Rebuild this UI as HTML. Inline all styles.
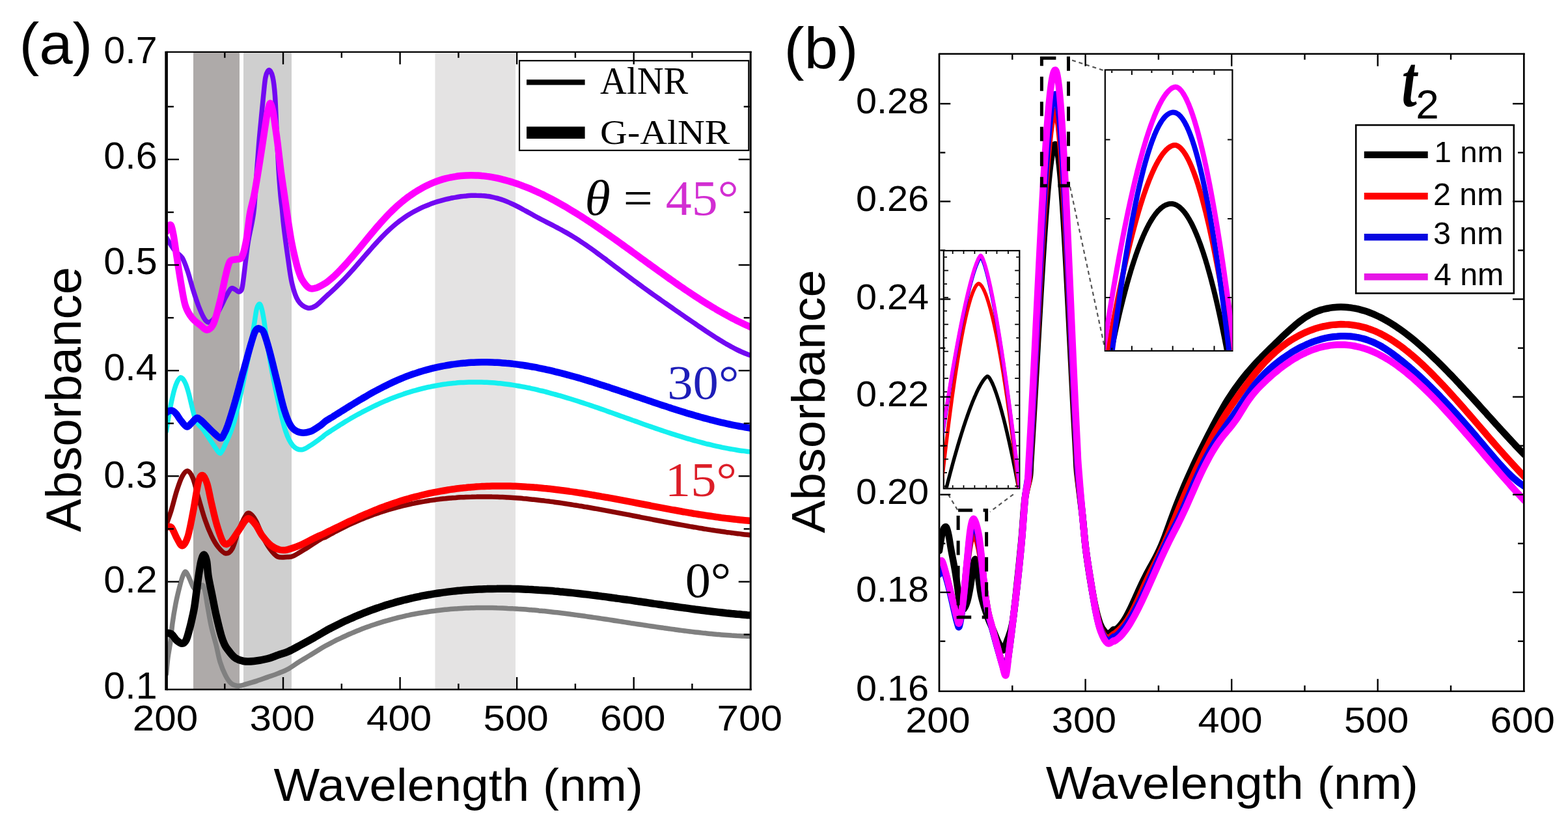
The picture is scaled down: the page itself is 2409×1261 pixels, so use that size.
<!DOCTYPE html>
<html><head><meta charset="utf-8"><title>Absorbance spectra</title>
<style>html,body{margin:0;padding:0;background:#fff;overflow:hidden}svg{display:block}</style>
</head><body>
<svg width="2409" height="1261" viewBox="0 0 2409 1261">
<rect x="0" y="0" width="2409" height="1261" fill="#fff"/>
<defs><clipPath id="ca"><rect x="255.6" y="79.8" width="897.6" height="979.2"/></clipPath>
<clipPath id="cb"><rect x="1443" y="82.7" width="898.3" height="979.1"/></clipPath>
<clipPath id="ci1"><rect x="1698.3" y="108.4" width="195" height="429.5"/></clipPath>
<clipPath id="ci2"><rect x="1450.5" y="385.8" width="115" height="363.6"/></clipPath>
</defs>
<rect x="297" y="79.8" width="71" height="979.2" fill="#AEAAA9"/>
<rect x="374" y="79.8" width="74" height="979.2" fill="#CFCFCF"/>
<rect x="668.4" y="79.8" width="123.6" height="979.2" fill="#E4E3E3"/>
<g clip-path="url(#ca)">
<path d="M255.5 365C256.5 366.7 259.3 371.4 261.7 375C264.1 378.6 266.9 383.1 270 386.6C273.1 390.1 276.9 391 280 396C283.1 401 285.5 408.4 288.3 416.6C291.1 424.8 293.8 436.1 296.6 445C299.4 453.9 302.2 462.8 305 470C307.8 477.2 310.8 484.1 313.3 488.3C315.8 492.5 317.5 494.7 320 495C322.5 495.3 325.2 493.6 328.3 490C331.4 486.4 335.2 478.8 338.3 473.2C341.4 467.6 343.8 461.5 346.6 456.5C349.4 451.5 352.6 445.2 355 443.2C357.4 441.2 359.1 443.7 361 444.5C362.9 445.3 364.9 448.3 366.6 448.2C368.4 448.1 370.2 447.9 371.5 444C372.8 440.1 373.5 432.3 374.5 425C375.5 417.7 376.3 409.2 377.5 400C378.7 390.8 379.8 380 381.5 370C383.2 360 386 348.3 387.5 340C389 331.7 389.5 330 390.5 320C391.5 310 392.1 296.2 393.3 280C394.5 263.8 396.2 238.8 397.5 223C398.8 207.2 399.8 197.7 401 185C402.2 172.3 403.5 158.1 404.7 147C405.9 135.9 406.6 125.2 408 118.6C409.4 112 411.6 107.5 413.4 107.5C415.2 107.5 417.5 112 419 118.6C420.5 125.2 421.5 133.4 422.5 147C423.5 160.6 424.1 181.2 425 200C425.9 218.8 427 243.3 428 260C429 276.7 430.1 289.7 431 300C431.9 310.3 432.7 314.1 433.5 322C434.3 329.9 434.4 335.4 435.9 347.6C437.3 359.8 440.1 380.5 442.2 395C444.3 409.5 445.9 423.7 448.5 434.8C451.1 445.9 454 455.4 458 461.7C462 468 467.8 471.5 472.3 472.8C476.8 474.1 480.4 472.5 485 469.7C489.6 466.9 496.2 459.6 500 456.2C503.8 452.7 505.3 451.4 508 448.9C510.7 446.4 513.3 443.9 516 441.4C518.7 438.8 521.3 436.2 524 433.5C526.7 430.8 529.3 428.1 532 425.2C534.7 422.4 537.3 419.5 540 416.5C542.7 413.6 545.3 410.5 548 407.5C550.7 404.4 553.3 401.3 556 398.3C558.7 395.2 561.3 392.1 564 389C566.7 386 569.3 382.9 572 379.9C574.7 376.9 577.3 374 580 371.1C582.7 368.2 585.3 365.4 588 362.6C590.7 359.9 593.3 357.2 596 354.7C598.7 352.2 601.3 349.8 604 347.5C606.7 345.2 609.3 343 612 340.9C614.7 338.9 617.3 336.9 620 335C622.7 333.2 625.3 331.4 628 329.7C630.7 328.1 633.3 326.5 636 325C638.7 323.5 641.3 322.1 644 320.8C646.7 319.5 649.3 318.3 652 317.1C654.7 315.9 657.3 314.9 660 313.9C662.7 312.8 665.3 311.9 668 311C670.7 310.1 673.3 309.3 676 308.6C678.7 307.8 681.3 307.1 684 306.4C686.7 305.8 689.3 305.2 692 304.6C694.7 304.1 697.3 303.5 700 303.1C702.7 302.6 705.3 302.2 708 301.8C710.7 301.4 713.3 301.1 716 300.9C718.7 300.6 721.3 300.4 724 300.3C726.7 300.2 729.3 300.1 732 300.2C734.7 300.2 737.3 300.3 740 300.5C742.7 300.6 745.3 300.9 748 301.3C750.7 301.6 753.3 302 756 302.6C758.7 303.1 761.3 303.8 764 304.5C766.7 305.2 769.3 306.1 772 307C774.7 307.9 777.3 309 780 310.1C782.7 311.2 785.3 312.5 788 313.7C790.7 315 793.3 316.3 796 317.7C798.7 319.1 801.3 320.5 804 322C806.7 323.4 809.3 324.9 812 326.3C814.7 327.8 817.3 329.3 820 330.8C822.7 332.2 825.3 333.7 828 335.1C830.7 336.5 833.3 337.9 836 339.3C838.7 340.7 841.3 342 844 343.4C846.7 344.8 849.3 346.1 852 347.5C854.7 348.9 857.3 350.3 860 351.7C862.7 353.1 865.3 354.6 868 356.1C870.7 357.6 873.3 359.1 876 360.7C878.7 362.3 881.3 364 884 365.6C886.7 367.3 889.3 369.1 892 370.8C894.7 372.6 897.3 374.4 900 376.2C902.7 378.1 905.3 379.9 908 381.8C910.7 383.7 913.3 385.6 916 387.6C918.7 389.5 921.3 391.5 924 393.5C926.7 395.4 929.3 397.4 932 399.4C934.7 401.4 937.3 403.4 940 405.4C942.7 407.5 945.3 409.5 948 411.5C950.7 413.5 953.3 415.5 956 417.5C958.7 419.5 961.3 421.5 964 423.5C966.7 425.5 969.3 427.5 972 429.5C974.7 431.4 977.3 433.4 980 435.4C982.7 437.3 985.3 439.2 988 441.2C990.7 443.1 993.3 445 996 447C998.7 448.9 1001.3 450.8 1004 452.7C1006.7 454.6 1009.3 456.5 1012 458.4C1014.7 460.3 1017.3 462.1 1020 464C1022.7 465.9 1025.3 467.8 1028 469.6C1030.7 471.5 1033.3 473.3 1036 475.2C1038.7 477.1 1041.3 478.9 1044 480.7C1046.7 482.6 1049.3 484.4 1052 486.3C1054.7 488.1 1057.3 489.9 1060 491.8C1062.7 493.6 1065.3 495.4 1068 497.2C1070.7 499 1073.3 500.9 1076 502.7C1078.7 504.5 1081.3 506.3 1084 508.1C1086.7 509.9 1089.3 511.7 1092 513.4C1094.7 515.2 1097.3 516.9 1100 518.6C1102.7 520.3 1105.3 522 1108 523.6C1110.7 525.2 1113.3 526.8 1116 528.4C1118.7 529.9 1121.3 531.4 1124 532.8C1126.7 534.3 1129.3 535.7 1132 537C1134.7 538.3 1137.3 539.5 1140 540.7C1142.7 541.9 1145.8 543.2 1148 544C1150.2 544.9 1152.2 545.5 1153 545.8" fill="none" stroke="#7208F2" stroke-width="7.5" stroke-linejoin="round" stroke-linecap="round"/>
<path d="M255.5 356C256.1 354.6 257.8 349.1 259 347.5C260.2 345.9 261.7 344.1 263 346.5C264.3 348.9 265.2 353.9 266.7 362C268.1 370.1 269.8 382.6 271.7 395C273.6 407.4 276.1 424.1 278.3 436.6C280.5 449.1 282.2 461.4 285 470C287.8 478.6 291.1 483.3 295 488.3C298.9 493.3 304.4 496.9 308.3 500C312.2 503.1 315 507.2 318.3 506.7C321.6 506.1 325 504.2 328.3 496.7C331.6 489.2 335.2 473.8 338.3 461.5C341.4 449.2 344.2 433.2 346.7 423.2C349.2 413.2 350.4 405.8 353.2 401.6C355.9 397.4 360.1 399.3 363.2 398.2C366.2 397.1 369 399.7 371.5 395C374 390.3 376.1 381.2 378.2 370C380.3 358.8 381.9 339.8 384 328C386.1 316.2 388.3 310.6 390.5 299.5C392.7 288.4 394.9 274.1 397 261.4C399.1 248.7 401.2 235.2 403 223.3C404.8 211.4 406.6 198.9 408 190C409.4 181.1 410.3 175.2 411.5 170C412.7 164.8 414 158.2 415.3 158.5C416.6 158.8 418.2 165.9 419.5 172C420.8 178.1 421.8 187 423 195C424.2 203 425.1 208.8 426.5 220C427.9 231.2 429.8 248.7 431.5 262C433.2 275.3 435.2 287.3 437 300C438.8 312.7 440.7 326 442.5 338C444.3 350 446.2 362.5 448 372C449.8 381.5 451.3 388 453 395C454.7 402 456.1 408.2 458 414C459.9 419.8 461.5 425.2 464.4 430C467.3 434.8 471.8 440.7 475.5 442.7C479.2 444.7 482.5 443.3 486.6 442C490.7 440.7 496.4 437.2 500 435C503.6 432.8 505.3 431.1 508 428.8C510.7 426.6 513.3 424.1 516 421.6C518.7 419 521.3 416.3 524 413.5C526.7 410.7 529.3 407.8 532 404.9C534.7 401.9 537.3 398.8 540 395.7C542.7 392.6 545.3 389.5 548 386.3C550.7 383.1 553.3 379.8 556 376.6C558.7 373.4 561.3 370.1 564 366.9C566.7 363.7 569.3 360.4 572 357.3C574.7 354.1 577.3 350.9 580 347.8C582.7 344.7 585.3 341.7 588 338.7C590.7 335.8 593.3 332.9 596 330.1C598.7 327.4 601.3 324.7 604 322.1C606.7 319.6 609.3 317.1 612 314.8C614.7 312.4 617.3 310.2 620 308C622.7 305.9 625.3 303.8 628 301.9C630.7 299.9 633.3 298.1 636 296.3C638.7 294.6 641.3 292.9 644 291.4C646.7 289.8 649.3 288.3 652 286.9C654.7 285.5 657.3 284.2 660 283C662.7 281.8 665.3 280.7 668 279.7C670.7 278.6 673.3 277.7 676 276.8C678.7 275.9 681.3 275.1 684 274.4C686.7 273.7 689.3 273.1 692 272.5C694.7 272 697.3 271.5 700 271.1C702.7 270.6 705.3 270.3 708 270C710.7 269.8 713.3 269.6 716 269.4C718.7 269.3 721.3 269.2 724 269.2C726.7 269.2 729.3 269.3 732 269.4C734.7 269.6 737.3 269.7 740 270C742.7 270.2 745.3 270.5 748 270.9C750.7 271.2 753.3 271.7 756 272.1C758.7 272.6 761.3 273.1 764 273.7C766.7 274.3 769.3 274.9 772 275.6C774.7 276.2 777.3 276.9 780 277.7C782.7 278.5 785.3 279.3 788 280.1C790.7 281 793.3 281.9 796 282.8C798.7 283.8 801.3 284.7 804 285.8C806.7 286.8 809.3 287.8 812 288.9C814.7 290 817.3 291.2 820 292.4C822.7 293.5 825.3 294.7 828 296C830.7 297.2 833.3 298.5 836 299.8C838.7 301.2 841.3 302.5 844 303.9C846.7 305.3 849.3 306.7 852 308.1C854.7 309.6 857.3 311.1 860 312.6C862.7 314.1 865.3 315.6 868 317.1C870.7 318.7 873.3 320.3 876 321.9C878.7 323.5 881.3 325.1 884 326.8C886.7 328.4 889.3 330.1 892 331.8C894.7 333.5 897.3 335.2 900 337C902.7 338.7 905.3 340.5 908 342.2C910.7 344 913.3 345.8 916 347.6C918.7 349.4 921.3 351.2 924 353.1C926.7 354.9 929.3 356.7 932 358.6C934.7 360.5 937.3 362.3 940 364.2C942.7 366.1 945.3 368 948 369.9C950.7 371.8 953.3 373.7 956 375.6C958.7 377.5 961.3 379.5 964 381.4C966.7 383.3 969.3 385.2 972 387.2C974.7 389.1 977.3 391 980 393C982.7 394.9 985.3 396.9 988 398.8C990.7 400.7 993.3 402.7 996 404.6C998.7 406.5 1001.3 408.5 1004 410.4C1006.7 412.3 1009.3 414.3 1012 416.2C1014.7 418.1 1017.3 420 1020 421.9C1022.7 423.8 1025.3 425.7 1028 427.6C1030.7 429.5 1033.3 431.4 1036 433.2C1038.7 435.1 1041.3 437 1044 438.8C1046.7 440.6 1049.3 442.5 1052 444.3C1054.7 446.1 1057.3 447.9 1060 449.7C1062.7 451.5 1065.3 453.2 1068 455C1070.7 456.7 1073.3 458.4 1076 460.2C1078.7 461.9 1081.3 463.5 1084 465.2C1086.7 466.9 1089.3 468.5 1092 470.1C1094.7 471.8 1097.3 473.3 1100 474.9C1102.7 476.5 1105.3 478 1108 479.5C1110.7 481.1 1113.3 482.5 1116 484C1118.7 485.5 1121.3 486.9 1124 488.3C1126.7 489.7 1129.3 491.1 1132 492.4C1134.7 493.7 1137.3 495 1140 496.3C1142.7 497.6 1145.8 499 1148 500C1150.2 501 1152.2 501.8 1153 502.2" fill="none" stroke="#FF00FF" stroke-width="10.5" stroke-linejoin="round" stroke-linecap="round"/>
<path d="M255.5 662C256.1 658.3 257.7 647.4 259 640C260.3 632.6 261.8 624.6 263.3 617.6C264.8 610.6 266.5 603.2 268 598C269.5 592.8 270.7 589.5 272.2 586.5C273.7 583.5 275.5 580.8 277 580C278.5 579.2 279.6 580.3 281 582C282.4 583.7 284 586.3 285.5 590C287 593.7 287.8 596 290 604.3C292.2 612.6 296.3 631.8 298.8 639.8C301.3 647.8 302.8 648.7 305 652C307.2 655.3 308.8 655.2 312.2 659.8C315.6 664.4 321.4 673.8 325.5 679.7C329.6 685.6 334 693.1 336.6 695.3C339.2 697.5 339.5 694.9 341 693C342.5 691.1 342.4 691.2 345.4 684.2C348.4 677.2 354.4 665.7 358.8 650.9C363.2 636.1 367.6 615.8 372 595.4C376.4 575 382.2 545.5 385.4 528.8C388.6 512.1 389.5 504.1 391 495C392.5 485.9 393.2 478.7 394.5 474C395.8 469.3 397.4 467 398.7 467C399.9 467 400.9 470 402 474C403.1 478 403.3 478.2 405.4 491C407.4 503.8 410.6 529.9 414.3 551C418 572.1 423.5 599.1 427.6 617.6C431.7 636.1 435 650.9 438.7 662C442.4 673.1 445.7 679.4 449.8 684.2C453.9 689 458.6 690.8 463.1 690.8C467.6 690.8 471.6 687.4 476.6 684.4C481.6 681.4 489.3 675.6 493.2 672.8C497.1 670 497.5 669.1 500 667.3C502.5 665.5 505.3 663.7 508 662C510.7 660.2 513.3 658.5 516 656.8C518.7 655.1 521.3 653.4 524 651.7C526.7 650.1 529.3 648.4 532 646.8C534.7 645.3 537.3 643.7 540 642.1C542.7 640.6 545.3 639.1 548 637.6C550.7 636.1 553.3 634.7 556 633.2C558.7 631.8 561.3 630.4 564 629.1C566.7 627.7 569.3 626.4 572 625.1C574.7 623.8 577.3 622.5 580 621.3C582.7 620 585.3 618.8 588 617.6C590.7 616.5 593.3 615.3 596 614.2C598.7 613.1 601.3 612.1 604 611C606.7 610 609.3 609 612 608C614.7 607 617.3 606.1 620 605.2C622.7 604.3 625.3 603.4 628 602.6C630.7 601.8 633.3 601 636 600.2C638.7 599.5 641.3 598.7 644 598C646.7 597.3 649.3 596.7 652 596C654.7 595.4 657.3 594.8 660 594.3C662.7 593.7 665.3 593.2 668 592.7C670.7 592.2 673.3 591.7 676 591.3C678.7 590.8 681.3 590.4 684 590.1C686.7 589.7 689.3 589.4 692 589.1C694.7 588.8 697.3 588.5 700 588.3C702.7 588 705.3 587.8 708 587.6C710.7 587.5 713.3 587.3 716 587.2C718.7 587.1 721.3 587 724 586.9C726.7 586.9 729.3 586.9 732 586.9C734.7 586.9 737.3 586.9 740 587C742.7 587.1 745.3 587.2 748 587.3C750.7 587.4 753.3 587.6 756 587.8C758.7 588 761.3 588.2 764 588.4C766.7 588.7 769.3 588.9 772 589.2C774.7 589.6 777.3 589.9 780 590.2C782.7 590.6 785.3 591 788 591.4C790.7 591.8 793.3 592.2 796 592.7C798.7 593.2 801.3 593.6 804 594.1C806.7 594.6 809.3 595.2 812 595.7C814.7 596.3 817.3 596.8 820 597.4C822.7 598 825.3 598.6 828 599.3C830.7 599.9 833.3 600.6 836 601.2C838.7 601.9 841.3 602.6 844 603.3C846.7 604 849.3 604.7 852 605.5C854.7 606.2 857.3 607 860 607.7C862.7 608.5 865.3 609.3 868 610.1C870.7 610.9 873.3 611.7 876 612.5C878.7 613.3 881.3 614.2 884 615C886.7 615.9 889.3 616.7 892 617.6C894.7 618.5 897.3 619.3 900 620.2C902.7 621.1 905.3 622 908 622.9C910.7 623.8 913.3 624.7 916 625.6C918.7 626.6 921.3 627.5 924 628.4C926.7 629.3 929.3 630.3 932 631.2C934.7 632.2 937.3 633.1 940 634C942.7 635 945.3 635.9 948 636.9C950.7 637.8 953.3 638.8 956 639.8C958.7 640.7 961.3 641.7 964 642.6C966.7 643.6 969.3 644.5 972 645.5C974.7 646.4 977.3 647.4 980 648.3C982.7 649.3 985.3 650.2 988 651.2C990.7 652.1 993.3 653 996 654C998.7 654.9 1001.3 655.8 1004 656.7C1006.7 657.7 1009.3 658.6 1012 659.5C1014.7 660.4 1017.3 661.3 1020 662.2C1022.7 663.1 1025.3 664 1028 664.8C1030.7 665.7 1033.3 666.6 1036 667.4C1038.7 668.3 1041.3 669.1 1044 669.9C1046.7 670.7 1049.3 671.6 1052 672.4C1054.7 673.2 1057.3 674 1060 674.7C1062.7 675.5 1065.3 676.3 1068 677C1070.7 677.8 1073.3 678.5 1076 679.2C1078.7 679.9 1081.3 680.6 1084 681.3C1086.7 681.9 1089.3 682.6 1092 683.2C1094.7 683.9 1097.3 684.5 1100 685.1C1102.7 685.7 1105.3 686.3 1108 686.8C1110.7 687.4 1113.3 687.9 1116 688.4C1118.7 689 1121.3 689.4 1124 689.9C1126.7 690.4 1129.3 690.8 1132 691.2C1134.7 691.7 1137.3 692.1 1140 692.4C1142.7 692.8 1145.8 693.2 1148 693.4C1150.2 693.7 1152.2 693.9 1153 694" fill="none" stroke="#14F0F0" stroke-width="7.5" stroke-linejoin="round" stroke-linecap="round"/>
<path d="M255.5 634C256.2 633.5 258.3 631.5 260 631C261.7 630.5 263.7 630.2 265.5 631C267.3 631.8 269.1 633.8 271 636C272.9 638.2 274 641 276.6 644.2C279.2 647.4 283.7 654.3 286.6 655.3C289.5 656.3 291.4 652.2 294 650C296.6 647.8 299.9 642.8 302.2 642C304.5 641.2 306 643.5 308 645C310 646.5 311.1 647.7 314.4 650.9C317.7 654.1 323.6 660.5 327.7 664.2C331.8 667.9 336.1 672.5 338.8 673C341.5 673.5 342.1 670.3 344 667C345.9 663.7 347.2 661.3 350 653.1C352.8 644.9 356.9 631.7 361 617.6C365.1 603.5 370.2 583.5 374.3 568.7C378.4 553.9 382.5 538.6 385.4 528.8C388.3 519 389.6 514.1 391.5 510C393.4 505.9 394.9 505.1 396.5 504.4C398.1 503.7 399.5 504.9 401 506C402.5 507.1 403.2 505.4 405.4 511C407.6 516.6 411 527.7 414.3 539.9C417.6 552.1 421.7 569.5 425.4 584.3C429.1 599.1 432.8 616.9 436.5 628.7C440.2 640.5 443.5 649.4 447.6 655.3C451.7 661.2 456.1 663 460.9 664.2C465.7 665.5 471.2 664.7 476.6 662.8C482 660.9 489.3 655.4 493.2 652.8C497.1 650.2 497.5 648.7 500 646.9C502.5 645.1 505.3 643.7 508 642.1C510.7 640.5 513.3 638.8 516 637.1C518.7 635.5 521.3 633.8 524 632.1C526.7 630.5 529.3 628.8 532 627.1C534.7 625.5 537.3 623.8 540 622.1C542.7 620.5 545.3 618.8 548 617.2C550.7 615.6 553.3 614 556 612.4C558.7 610.9 561.3 609.3 564 607.8C566.7 606.2 569.3 604.7 572 603.2C574.7 601.7 577.3 600.3 580 598.9C582.7 597.4 585.3 596 588 594.7C590.7 593.3 593.3 592 596 590.7C598.7 589.4 601.3 588.1 604 586.9C606.7 585.7 609.3 584.5 612 583.3C614.7 582.2 617.3 581.1 620 580C622.7 578.9 625.3 577.9 628 576.9C630.7 575.9 633.3 575 636 574.1C638.7 573.1 641.3 572.3 644 571.4C646.7 570.6 649.3 569.8 652 569C654.7 568.3 657.3 567.5 660 566.8C662.7 566.1 665.3 565.5 668 564.9C670.7 564.2 673.3 563.7 676 563.1C678.7 562.6 681.3 562 684 561.6C686.7 561.1 689.3 560.6 692 560.2C694.7 559.8 697.3 559.4 700 559.1C702.7 558.7 705.3 558.4 708 558.1C710.7 557.9 713.3 557.6 716 557.4C718.7 557.2 721.3 557 724 556.8C726.7 556.7 729.3 556.6 732 556.5C734.7 556.4 737.3 556.3 740 556.3C742.7 556.3 745.3 556.3 748 556.3C750.7 556.3 753.3 556.4 756 556.5C758.7 556.6 761.3 556.7 764 556.8C766.7 557 769.3 557.2 772 557.4C774.7 557.6 777.3 557.8 780 558.1C782.7 558.3 785.3 558.6 788 558.9C790.7 559.2 793.3 559.6 796 559.9C798.7 560.3 801.3 560.6 804 561C806.7 561.5 809.3 561.9 812 562.3C814.7 562.8 817.3 563.2 820 563.7C822.7 564.2 825.3 564.7 828 565.3C830.7 565.8 833.3 566.4 836 566.9C838.7 567.5 841.3 568.1 844 568.7C846.7 569.3 849.3 569.9 852 570.6C854.7 571.2 857.3 571.9 860 572.5C862.7 573.2 865.3 573.9 868 574.6C870.7 575.3 873.3 576 876 576.8C878.7 577.5 881.3 578.2 884 579C886.7 579.8 889.3 580.5 892 581.3C894.7 582.1 897.3 582.9 900 583.7C902.7 584.5 905.3 585.3 908 586.1C910.7 587 913.3 587.8 916 588.6C918.7 589.5 921.3 590.3 924 591.2C926.7 592 929.3 592.9 932 593.8C934.7 594.6 937.3 595.5 940 596.4C942.7 597.3 945.3 598.1 948 599C950.7 599.9 953.3 600.8 956 601.7C958.7 602.6 961.3 603.5 964 604.4C966.7 605.3 969.3 606.2 972 607.1C974.7 608 977.3 608.9 980 609.8C982.7 610.7 985.3 611.6 988 612.5C990.7 613.4 993.3 614.4 996 615.3C998.7 616.2 1001.3 617 1004 617.9C1006.7 618.8 1009.3 619.7 1012 620.6C1014.7 621.5 1017.3 622.4 1020 623.3C1022.7 624.1 1025.3 625 1028 625.9C1030.7 626.7 1033.3 627.6 1036 628.4C1038.7 629.3 1041.3 630.1 1044 631C1046.7 631.8 1049.3 632.6 1052 633.4C1054.7 634.3 1057.3 635.1 1060 635.9C1062.7 636.6 1065.3 637.4 1068 638.2C1070.7 639 1073.3 639.7 1076 640.5C1078.7 641.2 1081.3 642 1084 642.7C1086.7 643.4 1089.3 644.1 1092 644.8C1094.7 645.5 1097.3 646.2 1100 646.8C1102.7 647.5 1105.3 648.1 1108 648.8C1110.7 649.4 1113.3 650 1116 650.6C1118.7 651.2 1121.3 651.8 1124 652.3C1126.7 652.9 1129.3 653.4 1132 653.9C1134.7 654.5 1137.3 655 1140 655.4C1142.7 655.9 1145.8 656.4 1148 656.8C1150.2 657.1 1152.2 657.4 1153 657.6" fill="none" stroke="#0000FA" stroke-width="10.5" stroke-linejoin="round" stroke-linecap="round"/>
<path d="M255.5 806C256.8 802.2 260.6 792.1 263.3 783.3C266 774.5 268.9 761.9 271.7 753.3C274.5 744.7 277.2 736.6 280 731.6C282.8 726.6 285.5 722.7 288.3 723.3C291.1 723.9 293.8 728 296.6 735C299.4 742 301.9 754.5 305 765C308.1 775.5 311.7 788.6 315 798.3C318.3 808 321.7 816.2 325 823.2C328.3 830.2 331.4 835.5 335 840C338.6 844.5 343 849.5 346.6 850C350.2 850.5 353.3 849 356.6 843.2C359.9 837.4 363.3 823.3 366.6 815C369.9 806.7 373.8 797.8 376.6 793.3C379.4 788.8 380.4 787.2 383.2 788.3C386 789.4 389.9 794.2 393.2 800C396.5 805.8 399.6 816 403.2 823.2C406.8 830.4 411 837.9 414.9 843.2C418.8 848.5 422.1 853 426.5 855C430.9 857 437 855.7 441.2 855.5C445.4 855.3 446.3 856 451.5 853.6C456.7 851.2 465.3 845.5 472.2 841.2C479.1 836.9 488.2 830.7 492.8 828C497.4 825.3 497.5 826.3 500 825.1C502.5 823.8 505.3 822 508 820.5C510.7 819.1 513.3 817.6 516 816.2C518.7 814.8 521.3 813.4 524 812.1C526.7 810.7 529.3 809.4 532 808.1C534.7 806.8 537.3 805.6 540 804.4C542.7 803.2 545.3 802 548 800.8C550.7 799.7 553.3 798.5 556 797.4C558.7 796.4 561.3 795.3 564 794.3C566.7 793.2 569.3 792.2 572 791.2C574.7 790.3 577.3 789.3 580 788.4C582.7 787.5 585.3 786.6 588 785.7C590.7 784.9 593.3 784 596 783.2C598.7 782.4 601.3 781.6 604 780.9C606.7 780.1 609.3 779.4 612 778.7C614.7 778 617.3 777.3 620 776.7C622.7 776 625.3 775.4 628 774.8C630.7 774.2 633.3 773.6 636 773.1C638.7 772.5 641.3 772 644 771.5C646.7 771 649.3 770.5 652 770.1C654.7 769.6 657.3 769.2 660 768.8C662.7 768.4 665.3 768 668 767.7C670.7 767.3 673.3 767 676 766.6C678.7 766.3 681.3 766 684 765.8C686.7 765.5 689.3 765.2 692 765C694.7 764.8 697.3 764.5 700 764.4C702.7 764.2 705.3 764 708 763.8C710.7 763.7 713.3 763.6 716 763.4C718.7 763.3 721.3 763.2 724 763.2C726.7 763.1 729.3 763 732 763C734.7 762.9 737.3 762.9 740 762.9C742.7 762.9 745.3 762.9 748 762.9C750.7 763 753.3 763 756 763.1C758.7 763.1 761.3 763.2 764 763.3C766.7 763.4 769.3 763.5 772 763.6C774.7 763.7 777.3 763.9 780 764C782.7 764.2 785.3 764.4 788 764.5C790.7 764.7 793.3 764.9 796 765.1C798.7 765.3 801.3 765.5 804 765.8C806.7 766 809.3 766.2 812 766.5C814.7 766.8 817.3 767 820 767.3C822.7 767.6 825.3 767.9 828 768.2C830.7 768.5 833.3 768.8 836 769.1C838.7 769.5 841.3 769.8 844 770.1C846.7 770.5 849.3 770.8 852 771.2C854.7 771.6 857.3 771.9 860 772.3C862.7 772.7 865.3 773.1 868 773.5C870.7 773.9 873.3 774.3 876 774.7C878.7 775.1 881.3 775.6 884 776C886.7 776.4 889.3 776.9 892 777.3C894.7 777.7 897.3 778.2 900 778.6C902.7 779.1 905.3 779.6 908 780C910.7 780.5 913.3 781 916 781.4C918.7 781.9 921.3 782.4 924 782.9C926.7 783.4 929.3 783.9 932 784.4C934.7 784.9 937.3 785.4 940 785.9C942.7 786.4 945.3 786.9 948 787.4C950.7 787.9 953.3 788.4 956 788.9C958.7 789.4 961.3 789.9 964 790.4C966.7 790.9 969.3 791.5 972 792C974.7 792.5 977.3 793 980 793.5C982.7 794 985.3 794.6 988 795.1C990.7 795.6 993.3 796.1 996 796.6C998.7 797.1 1001.3 797.7 1004 798.2C1006.7 798.7 1009.3 799.2 1012 799.7C1014.7 800.2 1017.3 800.7 1020 801.2C1022.7 801.7 1025.3 802.2 1028 802.7C1030.7 803.2 1033.3 803.7 1036 804.2C1038.7 804.7 1041.3 805.2 1044 805.7C1046.7 806.2 1049.3 806.7 1052 807.1C1054.7 807.6 1057.3 808.1 1060 808.6C1062.7 809 1065.3 809.5 1068 809.9C1070.7 810.4 1073.3 810.8 1076 811.3C1078.7 811.7 1081.3 812.2 1084 812.6C1086.7 813 1089.3 813.4 1092 813.9C1094.7 814.3 1097.3 814.7 1100 815.1C1102.7 815.5 1105.3 815.9 1108 816.2C1110.7 816.6 1113.3 817 1116 817.4C1118.7 817.7 1121.3 818.1 1124 818.4C1126.7 818.8 1129.3 819.1 1132 819.4C1134.7 819.7 1137.3 820.1 1140 820.4C1142.7 820.7 1145.8 821 1148 821.2C1150.2 821.5 1152.2 821.7 1153 821.7" fill="none" stroke="#8A0505" stroke-width="7.5" stroke-linejoin="round" stroke-linecap="round"/>
<path d="M255.5 810C256.8 810 260.6 807.2 263.3 810C266 812.8 268.9 821.9 271.7 826.6C274.5 831.3 277.2 838.5 280 838.2C282.8 837.9 285.5 833.6 288.3 825C291.1 816.4 293.8 800.8 296.6 786.6C299.4 772.4 302.5 749.4 305 740C307.5 730.6 309.4 729.5 311.6 730C313.8 730.5 316.1 736.1 318.3 743.3C320.5 750.5 322.5 762.8 325 773.3C327.5 783.8 330.2 796.6 333.3 806.6C336.4 816.6 340 828.8 343.3 833.2C346.6 837.6 349.4 836.2 353.3 833.2C357.2 830.2 362.7 820.5 366.6 815C370.5 809.5 373.8 803.1 376.6 800C379.4 796.9 380.4 795.5 383.2 796.6C386 797.7 389.9 802.2 393.2 806.6C396.5 811 399.3 818 403.2 823.2C407.1 828.4 412.1 834.5 416.6 838C421.1 841.5 425.9 843.5 430 844.5C434.1 845.5 435.9 845.5 441.2 844.3C446.5 843.1 455 840 461.9 837.1C468.8 834.2 476.1 829.9 482.5 826.8C488.9 823.7 495.8 820.7 500 818.6C504.2 816.6 505.3 816 508 814.7C510.7 813.4 513.3 812.1 516 810.8C518.7 809.5 521.3 808.2 524 806.9C526.7 805.6 529.3 804.4 532 803.1C534.7 801.8 537.3 800.6 540 799.4C542.7 798.1 545.3 796.9 548 795.7C550.7 794.5 553.3 793.3 556 792.1C558.7 791 561.3 789.8 564 788.7C566.7 787.5 569.3 786.4 572 785.3C574.7 784.2 577.3 783.2 580 782.1C582.7 781 585.3 780 588 779C590.7 778 593.3 777 596 776.1C598.7 775.1 601.3 774.2 604 773.3C606.7 772.4 609.3 771.5 612 770.6C614.7 769.8 617.3 768.9 620 768.1C622.7 767.3 625.3 766.5 628 765.8C630.7 765 633.3 764.3 636 763.5C638.7 762.8 641.3 762.1 644 761.5C646.7 760.8 649.3 760.2 652 759.5C654.7 758.9 657.3 758.3 660 757.7C662.7 757.2 665.3 756.6 668 756.1C670.7 755.6 673.3 755.1 676 754.6C678.7 754.1 681.3 753.6 684 753.2C686.7 752.8 689.3 752.3 692 751.9C694.7 751.6 697.3 751.2 700 750.8C702.7 750.5 705.3 750.1 708 749.8C710.7 749.5 713.3 749.2 716 749C718.7 748.7 721.3 748.5 724 748.2C726.7 748 729.3 747.8 732 747.6C734.7 747.5 737.3 747.3 740 747.1C742.7 747 745.3 746.9 748 746.8C750.7 746.7 753.3 746.6 756 746.5C758.7 746.5 761.3 746.4 764 746.4C766.7 746.4 769.3 746.4 772 746.4C774.7 746.4 777.3 746.5 780 746.5C782.7 746.6 785.3 746.6 788 746.7C790.7 746.8 793.3 746.9 796 747C798.7 747.1 801.3 747.3 804 747.4C806.7 747.6 809.3 747.7 812 747.9C814.7 748.1 817.3 748.3 820 748.5C822.7 748.7 825.3 749 828 749.2C830.7 749.4 833.3 749.7 836 750C838.7 750.2 841.3 750.5 844 750.8C846.7 751.1 849.3 751.4 852 751.7C854.7 752 857.3 752.4 860 752.7C862.7 753 865.3 753.4 868 753.7C870.7 754.1 873.3 754.5 876 754.9C878.7 755.2 881.3 755.6 884 756C886.7 756.4 889.3 756.8 892 757.2C894.7 757.7 897.3 758.1 900 758.5C902.7 758.9 905.3 759.4 908 759.8C910.7 760.3 913.3 760.7 916 761.2C918.7 761.6 921.3 762.1 924 762.6C926.7 763 929.3 763.5 932 764C934.7 764.5 937.3 765 940 765.4C942.7 765.9 945.3 766.4 948 766.9C950.7 767.4 953.3 767.9 956 768.4C958.7 768.9 961.3 769.4 964 769.9C966.7 770.4 969.3 770.9 972 771.4C974.7 772 977.3 772.5 980 773C982.7 773.5 985.3 774 988 774.5C990.7 775 993.3 775.5 996 776C998.7 776.5 1001.3 777.1 1004 777.6C1006.7 778.1 1009.3 778.6 1012 779.1C1014.7 779.6 1017.3 780.1 1020 780.6C1022.7 781.1 1025.3 781.6 1028 782.1C1030.7 782.6 1033.3 783.1 1036 783.5C1038.7 784 1041.3 784.5 1044 785C1046.7 785.5 1049.3 785.9 1052 786.4C1054.7 786.8 1057.3 787.3 1060 787.8C1062.7 788.2 1065.3 788.7 1068 789.1C1070.7 789.5 1073.3 790 1076 790.4C1078.7 790.8 1081.3 791.2 1084 791.6C1086.7 792 1089.3 792.4 1092 792.8C1094.7 793.2 1097.3 793.6 1100 794C1102.7 794.3 1105.3 794.7 1108 795.1C1110.7 795.4 1113.3 795.8 1116 796.1C1118.7 796.4 1121.3 796.7 1124 797C1126.7 797.3 1129.3 797.6 1132 797.9C1134.7 798.2 1137.3 798.5 1140 798.7C1142.7 799 1145.8 799.3 1148 799.4C1150.2 799.6 1152.2 799.8 1153 799.9" fill="none" stroke="#FF0000" stroke-width="10.5" stroke-linejoin="round" stroke-linecap="round"/>
<path d="M255.5 1035C255.9 1030.8 256.9 1018.3 258 1010C259.1 1001.7 260.8 993.8 262 985C263.2 976.2 263.7 966.7 265 957C266.3 947.3 268.2 936.3 270 927C271.8 917.7 274.3 907.7 276 901C277.7 894.3 278.6 890.8 280 887C281.4 883.2 283 878.5 284.5 878C286 877.5 287.6 881.5 289 884C290.4 886.5 291.7 890 293 893C294.3 896 295.5 899.8 297 902C298.5 904.2 300.3 906 302 906C303.7 906 305.4 903.2 307 902C308.6 900.8 310.2 898 311.5 899C312.8 900 313.8 902.5 315 908C316.2 913.5 317.4 923 319 932C320.6 941 322.3 952.2 324.5 962C326.7 971.8 329.7 981.5 332 990.6C334.3 999.7 335.7 1008.9 338.1 1016.6C340.5 1024.3 343.5 1031.5 346.2 1036.9C348.9 1042.3 351.6 1046.3 354.3 1049C357 1051.7 359.7 1052.3 362.4 1053C365.1 1053.7 367.8 1053.4 370.5 1053C373.2 1052.6 374.5 1051.8 378.5 1050.6C382.5 1049.4 389.3 1047.5 394.7 1045.8C400.1 1044 405.5 1042 410.9 1040.1C416.3 1038.2 421.7 1036.6 427.1 1034.4C432.5 1032.2 437.9 1030.2 443.3 1027.2C448.7 1024.2 454 1020 459.4 1016.6C464.8 1013.2 470.5 1010 475.6 1006.9C480.7 1003.8 485.9 1000.5 490 998C494.1 995.5 497 993.8 500 992.1C503 990.4 505.3 989.2 508 987.8C510.7 986.4 513.3 985.1 516 983.7C518.7 982.4 521.3 981.1 524 979.9C526.7 978.6 529.3 977.4 532 976.2C534.7 974.9 537.3 973.8 540 972.6C542.7 971.5 545.3 970.4 548 969.3C550.7 968.2 553.3 967.2 556 966.1C558.7 965.1 561.3 964.1 564 963.1C566.7 962.2 569.3 961.2 572 960.3C574.7 959.4 577.3 958.5 580 957.6C582.7 956.8 585.3 955.9 588 955.1C590.7 954.3 593.3 953.5 596 952.8C598.7 952 601.3 951.3 604 950.6C606.7 949.9 609.3 949.2 612 948.5C614.7 947.9 617.3 947.2 620 946.6C622.7 946 625.3 945.4 628 944.9C630.7 944.3 633.3 943.8 636 943.3C638.7 942.8 641.3 942.3 644 941.8C646.7 941.3 649.3 940.9 652 940.5C654.7 940 657.3 939.6 660 939.2C662.7 938.9 665.3 938.5 668 938.2C670.7 937.8 673.3 937.5 676 937.2C678.7 936.9 681.3 936.6 684 936.3C686.7 936.1 689.3 935.8 692 935.6C694.7 935.4 697.3 935.2 700 935C702.7 934.8 705.3 934.7 708 934.5C710.7 934.4 713.3 934.2 716 934.1C718.7 934 721.3 933.9 724 933.8C726.7 933.7 729.3 933.7 732 933.6C734.7 933.6 737.3 933.5 740 933.5C742.7 933.5 745.3 933.5 748 933.5C750.7 933.5 753.3 933.6 756 933.6C758.7 933.6 761.3 933.7 764 933.8C766.7 933.8 769.3 933.9 772 934C774.7 934.1 777.3 934.2 780 934.4C782.7 934.5 785.3 934.6 788 934.8C790.7 934.9 793.3 935.1 796 935.3C798.7 935.4 801.3 935.6 804 935.8C806.7 936 809.3 936.2 812 936.4C814.7 936.6 817.3 936.9 820 937.1C822.7 937.3 825.3 937.6 828 937.9C830.7 938.1 833.3 938.4 836 938.6C838.7 938.9 841.3 939.2 844 939.5C846.7 939.8 849.3 940.1 852 940.4C854.7 940.7 857.3 941 860 941.3C862.7 941.7 865.3 942 868 942.3C870.7 942.7 873.3 943 876 943.3C878.7 943.7 881.3 944.1 884 944.4C886.7 944.8 889.3 945.1 892 945.5C894.7 945.9 897.3 946.2 900 946.6C902.7 947 905.3 947.4 908 947.8C910.7 948.2 913.3 948.5 916 948.9C918.7 949.3 921.3 949.7 924 950.1C926.7 950.5 929.3 950.9 932 951.3C934.7 951.7 937.3 952.1 940 952.5C942.7 953 945.3 953.4 948 953.8C950.7 954.2 953.3 954.6 956 955C958.7 955.4 961.3 955.8 964 956.2C966.7 956.6 969.3 957.1 972 957.5C974.7 957.9 977.3 958.3 980 958.7C982.7 959.1 985.3 959.5 988 959.9C990.7 960.3 993.3 960.7 996 961.1C998.7 961.5 1001.3 961.9 1004 962.3C1006.7 962.7 1009.3 963.1 1012 963.5C1014.7 963.9 1017.3 964.2 1020 964.6C1022.7 965 1025.3 965.4 1028 965.7C1030.7 966.1 1033.3 966.5 1036 966.8C1038.7 967.2 1041.3 967.6 1044 967.9C1046.7 968.3 1049.3 968.6 1052 968.9C1054.7 969.3 1057.3 969.6 1060 969.9C1062.7 970.3 1065.3 970.6 1068 970.9C1070.7 971.2 1073.3 971.5 1076 971.8C1078.7 972.1 1081.3 972.4 1084 972.6C1086.7 972.9 1089.3 973.2 1092 973.4C1094.7 973.7 1097.3 974 1100 974.2C1102.7 974.4 1105.3 974.7 1108 974.9C1110.7 975.1 1113.3 975.3 1116 975.5C1118.7 975.7 1121.3 975.9 1124 976.1C1126.7 976.2 1129.3 976.4 1132 976.6C1134.7 976.7 1137.3 976.8 1140 977C1142.7 977.1 1145.8 977.2 1148 977.3C1150.2 977.4 1152.2 977.5 1153 977.5" fill="none" stroke="#808080" stroke-width="7.5" stroke-linejoin="round" stroke-linecap="round"/>
<path d="M255.5 972C256.9 972.4 261.4 972.5 264 974.4C266.6 976.2 268.4 980.8 271 983.1C273.6 985.4 277.2 988.3 279.7 988.3C282.2 988.3 284 987 286 983C288 979 290.1 969.8 291.7 964C293.3 958.2 294.3 953.6 295.5 948C296.7 942.4 297.4 940.9 299 930.4C300.6 919.9 303.3 896.6 305 885.2C306.7 873.8 307.6 867.5 309 862C310.4 856.5 311.9 852 313.3 852C314.7 852 316.4 856.5 317.5 862C318.6 867.5 318.7 876.3 320.1 885.2C321.5 894.1 324.1 905.3 326.1 915.3C328.1 925.3 329.9 935.4 332.2 945.4C334.5 955.4 337.6 968.1 339.7 975.5C341.8 982.9 343.2 986.2 345 990C346.8 993.8 347.6 994.7 350.2 998.1C352.8 1001.5 356.8 1007.3 360.8 1010.2C364.8 1013.1 369.4 1014.6 374.3 1015.5C379.2 1016.4 383.9 1016.1 390 1015.5C396.1 1014.9 404.7 1013.4 410.9 1011.8C417.1 1010.2 421.7 1008 427.1 1006.1C432.5 1004.2 437.5 1003.1 443.3 1000.5C449.1 997.9 455.4 994.2 461.9 990.7C468.4 987.2 476.1 983 482.5 979.4C488.9 975.8 495.8 971.7 500 969.3C504.2 966.8 505.3 966.4 508 964.9C510.7 963.5 513.3 962.2 516 960.8C518.7 959.5 521.3 958.2 524 956.9C526.7 955.6 529.3 954.3 532 953.1C534.7 951.8 537.3 950.6 540 949.5C542.7 948.3 545.3 947.1 548 946C550.7 944.9 553.3 943.8 556 942.7C558.7 941.6 561.3 940.6 564 939.6C566.7 938.5 569.3 937.6 572 936.6C574.7 935.6 577.3 934.7 580 933.8C582.7 932.8 585.3 932 588 931.1C590.7 930.2 593.3 929.4 596 928.6C598.7 927.7 601.3 926.9 604 926.2C606.7 925.4 609.3 924.6 612 923.9C614.7 923.2 617.3 922.5 620 921.8C622.7 921.1 625.3 920.5 628 919.8C630.7 919.2 633.3 918.6 636 918C638.7 917.4 641.3 916.8 644 916.3C646.7 915.7 649.3 915.2 652 914.7C654.7 914.2 657.3 913.7 660 913.3C662.7 912.8 665.3 912.3 668 911.9C670.7 911.5 673.3 911.1 676 910.7C678.7 910.3 681.3 909.9 684 909.6C686.7 909.2 689.3 908.9 692 908.6C694.7 908.3 697.3 908 700 907.7C702.7 907.4 705.3 907.2 708 906.9C710.7 906.7 713.3 906.5 716 906.3C718.7 906.1 721.3 905.9 724 905.7C726.7 905.5 729.3 905.4 732 905.2C734.7 905.1 737.3 905 740 904.9C742.7 904.7 745.3 904.6 748 904.6C750.7 904.5 753.3 904.4 756 904.4C758.7 904.3 761.3 904.3 764 904.3C766.7 904.2 769.3 904.2 772 904.2C774.7 904.2 777.3 904.3 780 904.3C782.7 904.3 785.3 904.4 788 904.4C790.7 904.5 793.3 904.6 796 904.6C798.7 904.7 801.3 904.8 804 904.9C806.7 905 809.3 905.1 812 905.3C814.7 905.4 817.3 905.5 820 905.7C822.7 905.8 825.3 906 828 906.2C830.7 906.3 833.3 906.5 836 906.7C838.7 906.9 841.3 907.1 844 907.3C846.7 907.5 849.3 907.7 852 908C854.7 908.2 857.3 908.4 860 908.7C862.7 908.9 865.3 909.2 868 909.4C870.7 909.7 873.3 910 876 910.2C878.7 910.5 881.3 910.8 884 911.1C886.7 911.4 889.3 911.7 892 912C894.7 912.3 897.3 912.6 900 912.9C902.7 913.2 905.3 913.5 908 913.9C910.7 914.2 913.3 914.5 916 914.8C918.7 915.2 921.3 915.5 924 915.9C926.7 916.2 929.3 916.6 932 916.9C934.7 917.3 937.3 917.6 940 918C942.7 918.3 945.3 918.7 948 919.1C950.7 919.4 953.3 919.8 956 920.2C958.7 920.6 961.3 920.9 964 921.3C966.7 921.7 969.3 922.1 972 922.4C974.7 922.8 977.3 923.2 980 923.6C982.7 924 985.3 924.4 988 924.7C990.7 925.1 993.3 925.5 996 925.9C998.7 926.3 1001.3 926.7 1004 927.1C1006.7 927.4 1009.3 927.8 1012 928.2C1014.7 928.6 1017.3 929 1020 929.4C1022.7 929.7 1025.3 930.1 1028 930.5C1030.7 930.9 1033.3 931.2 1036 931.6C1038.7 932 1041.3 932.4 1044 932.7C1046.7 933.1 1049.3 933.5 1052 933.8C1054.7 934.2 1057.3 934.6 1060 934.9C1062.7 935.3 1065.3 935.6 1068 936C1070.7 936.3 1073.3 936.7 1076 937C1078.7 937.3 1081.3 937.7 1084 938C1086.7 938.3 1089.3 938.7 1092 939C1094.7 939.3 1097.3 939.6 1100 939.9C1102.7 940.2 1105.3 940.5 1108 940.8C1110.7 941.1 1113.3 941.4 1116 941.7C1118.7 941.9 1121.3 942.2 1124 942.5C1126.7 942.7 1129.3 943 1132 943.3C1134.7 943.5 1137.3 943.7 1140 944C1142.7 944.2 1145.8 944.5 1148 944.7C1150.2 944.8 1152.2 945 1153 945" fill="none" stroke="#000000" stroke-width="11.5" stroke-linejoin="round" stroke-linecap="round"/>
</g>
<rect x="798" y="93.2" width="352.3" height="137.8" fill="#fff" stroke="#000" stroke-width="2.2"/>
<line x1="809" y1="126.4" x2="898.6" y2="126.4" stroke="#000" stroke-width="8.2"/>
<line x1="809" y1="203.7" x2="898.6" y2="203.7" stroke="#000" stroke-width="18.6"/>
<line x1="255.6" y1="78.8" x2="255.6" y2="1060.2" stroke="#000" stroke-width="4.6"/>
<line x1="255.6" y1="79.8" x2="1154.7" y2="79.8" stroke="#000" stroke-width="2.2"/>
<line x1="1153.2" y1="78.8" x2="1153.2" y2="1060.2" stroke="#000" stroke-width="3.0"/>
<line x1="255.6" y1="1059" x2="1154.7" y2="1059" stroke="#000" stroke-width="2.4"/>
<line x1="345.3" y1="1059" x2="345.3" y2="1050" stroke="#000" stroke-width="2.4"/>
<line x1="345.3" y1="79.8" x2="345.3" y2="88.8" stroke="#000" stroke-width="2.4"/>
<line x1="435" y1="1059" x2="435" y2="1040" stroke="#000" stroke-width="2.4"/>
<line x1="435" y1="79.8" x2="435" y2="98.8" stroke="#000" stroke-width="2.4"/>
<line x1="524.8" y1="1059" x2="524.8" y2="1050" stroke="#000" stroke-width="2.4"/>
<line x1="524.8" y1="79.8" x2="524.8" y2="88.8" stroke="#000" stroke-width="2.4"/>
<line x1="614.6" y1="1059" x2="614.6" y2="1040" stroke="#000" stroke-width="2.4"/>
<line x1="614.6" y1="79.8" x2="614.6" y2="98.8" stroke="#000" stroke-width="2.4"/>
<line x1="704.4" y1="1059" x2="704.4" y2="1050" stroke="#000" stroke-width="2.4"/>
<line x1="704.4" y1="79.8" x2="704.4" y2="88.8" stroke="#000" stroke-width="2.4"/>
<line x1="794.1" y1="1059" x2="794.1" y2="1040" stroke="#000" stroke-width="2.4"/>
<line x1="794.1" y1="79.8" x2="794.1" y2="98.8" stroke="#000" stroke-width="2.4"/>
<line x1="883.9" y1="1059" x2="883.9" y2="1050" stroke="#000" stroke-width="2.4"/>
<line x1="883.9" y1="79.8" x2="883.9" y2="88.8" stroke="#000" stroke-width="2.4"/>
<line x1="973.7" y1="1059" x2="973.7" y2="1040" stroke="#000" stroke-width="2.4"/>
<line x1="973.7" y1="79.8" x2="973.7" y2="98.8" stroke="#000" stroke-width="2.4"/>
<line x1="1063.4" y1="1059" x2="1063.4" y2="1050" stroke="#000" stroke-width="2.4"/>
<line x1="1063.4" y1="79.8" x2="1063.4" y2="88.8" stroke="#000" stroke-width="2.4"/>
<line x1="257.9" y1="974.6" x2="266.9" y2="974.6" stroke="#000" stroke-width="2.4"/>
<line x1="1151.7" y1="974.6" x2="1142.7" y2="974.6" stroke="#000" stroke-width="2.4"/>
<line x1="257.9" y1="893.5" x2="274.9" y2="893.5" stroke="#000" stroke-width="2.4"/>
<line x1="1151.7" y1="893.5" x2="1134.7" y2="893.5" stroke="#000" stroke-width="2.4"/>
<line x1="257.9" y1="812.4" x2="266.9" y2="812.4" stroke="#000" stroke-width="2.4"/>
<line x1="1151.7" y1="812.4" x2="1142.7" y2="812.4" stroke="#000" stroke-width="2.4"/>
<line x1="257.9" y1="731.3" x2="274.9" y2="731.3" stroke="#000" stroke-width="2.4"/>
<line x1="1151.7" y1="731.3" x2="1134.7" y2="731.3" stroke="#000" stroke-width="2.4"/>
<line x1="257.9" y1="650.3" x2="266.9" y2="650.3" stroke="#000" stroke-width="2.4"/>
<line x1="1151.7" y1="650.3" x2="1142.7" y2="650.3" stroke="#000" stroke-width="2.4"/>
<line x1="257.9" y1="569.2" x2="274.9" y2="569.2" stroke="#000" stroke-width="2.4"/>
<line x1="1151.7" y1="569.2" x2="1134.7" y2="569.2" stroke="#000" stroke-width="2.4"/>
<line x1="257.9" y1="488.1" x2="266.9" y2="488.1" stroke="#000" stroke-width="2.4"/>
<line x1="1151.7" y1="488.1" x2="1142.7" y2="488.1" stroke="#000" stroke-width="2.4"/>
<line x1="257.9" y1="407" x2="274.9" y2="407" stroke="#000" stroke-width="2.4"/>
<line x1="1151.7" y1="407" x2="1134.7" y2="407" stroke="#000" stroke-width="2.4"/>
<line x1="257.9" y1="326" x2="266.9" y2="326" stroke="#000" stroke-width="2.4"/>
<line x1="1151.7" y1="326" x2="1142.7" y2="326" stroke="#000" stroke-width="2.4"/>
<line x1="257.9" y1="244.9" x2="274.9" y2="244.9" stroke="#000" stroke-width="2.4"/>
<line x1="1151.7" y1="244.9" x2="1134.7" y2="244.9" stroke="#000" stroke-width="2.4"/>
<line x1="257.9" y1="163.8" x2="266.9" y2="163.8" stroke="#000" stroke-width="2.4"/>
<line x1="1151.7" y1="163.8" x2="1142.7" y2="163.8" stroke="#000" stroke-width="2.4"/>
<g clip-path="url(#cb)">
<path d="M1443 846C1443.7 842 1445.8 827.8 1447 822C1448.2 816.2 1449.3 813 1450.5 811C1451.7 809 1452.8 808.2 1454 810C1455.2 811.8 1456.3 816.5 1457.5 822C1458.7 827.5 1459.4 834.2 1461 843C1462.6 851.8 1465.2 864.7 1467 875C1468.8 885.3 1470.2 895.8 1471.5 905C1472.8 914.2 1473.6 924.8 1475 930C1476.4 935.2 1478.2 937 1480 936C1481.8 935 1484.2 930 1486 924C1487.8 918 1489.6 908 1491 900C1492.4 892 1493.3 882.8 1494.5 876C1495.7 869.2 1496.8 859.7 1498 859C1499.2 858.3 1500.5 866.3 1501.5 872C1502.5 877.7 1503.1 886.2 1504 893C1504.9 899.8 1505.7 906.5 1507 913C1508.3 919.5 1510 925.5 1512 932C1514 938.5 1516.7 946 1519 952C1521.3 958 1523.7 962.5 1526 968C1528.3 973.5 1530.9 980.5 1533 985C1535.1 989.5 1537 992.8 1538.5 995C1540 997.2 1540.6 999.7 1542 998C1543.4 996.3 1544.8 991.8 1547 985C1549.2 978.2 1552.8 972.3 1555.5 957C1558.2 941.7 1560.7 914.3 1563 893C1565.3 871.7 1567.5 850.2 1569.5 829C1571.5 807.8 1572.7 781.4 1574.7 765.5C1576.7 749.6 1580.3 742.5 1581.7 733.3C1583.1 724.1 1582.7 717.9 1583.2 710C1583.7 702.2 1584.2 694.1 1584.7 686C1585.2 677.9 1585.7 669.7 1586.2 661.3C1586.7 653 1587.2 644.6 1587.7 636.1C1588.2 627.6 1588.7 619 1589.2 610.3C1589.7 601.7 1590.2 593 1590.7 584.2C1591.2 575.5 1591.7 566.7 1592.2 557.9C1592.7 549.1 1593.2 540.3 1593.7 531.5C1594.2 522.8 1594.7 514 1595.2 505.2C1595.7 496.5 1596.2 487.8 1596.7 479.1C1597.2 470.5 1597.7 461.9 1598.2 453.4C1598.7 445 1599.2 436.6 1599.7 428.3C1600.2 420 1600.7 411.9 1601.2 403.9C1601.7 395.9 1602.2 388 1602.7 380.4C1603.2 372.7 1603.7 365.2 1604.2 357.9C1604.7 350.6 1605.2 343.5 1605.7 336.7C1606.2 329.8 1606.7 323.2 1607.2 316.8C1607.7 310.5 1608.2 304.4 1608.7 298.5C1609.2 292.7 1609.7 287.2 1610.2 281.9C1610.7 276.7 1611.2 271.7 1611.7 267.1C1612.2 262.5 1612.7 258.2 1613.2 254.3C1613.7 250.3 1614.2 246.7 1614.7 243.4C1615.2 240.2 1615.7 237.3 1616.2 234.8C1616.7 232.2 1617.2 230.1 1617.7 228.3C1618.2 226.5 1618.7 225.1 1619.2 224.1C1619.7 223 1620.2 222.4 1620.7 222.1C1621.2 221.9 1621.7 222 1622.2 222.7C1622.7 223.4 1623.2 224.6 1623.7 226.4C1624.2 228.1 1624.7 230.4 1625.2 233.2C1625.7 236 1626.2 239.3 1626.7 243C1627.2 246.8 1627.7 251.1 1628.2 255.8C1628.7 260.5 1629.2 265.7 1629.7 271.3C1630.2 276.9 1630.7 282.9 1631.2 289.3C1631.7 295.8 1632.2 302.6 1632.7 309.8C1633.2 317 1633.7 324.5 1634.2 332.4C1634.7 340.2 1635.2 348.4 1635.7 356.9C1636.2 365.3 1636.7 374 1637.2 383C1637.7 391.9 1638.2 401.1 1638.7 410.4C1639.2 419.7 1639.7 429.3 1640.2 438.9C1640.7 448.5 1641.2 458.4 1641.7 468.2C1642.2 478.1 1642.7 488.1 1643.2 498C1643.7 508 1644.2 518.1 1644.7 528.1C1645.2 538.1 1645.7 548.2 1646.2 558.2C1646.7 568.2 1647.2 578.2 1647.7 588C1648.2 597.9 1648.7 607.7 1649.2 617.4C1649.7 627.1 1650.2 636.7 1650.7 646.2C1651.2 655.6 1651.7 664.9 1652.2 674.1C1652.7 683.2 1653.2 692.2 1653.7 701C1654.2 709.8 1653.7 711.8 1655.2 726.8C1656.8 741.8 1660.9 771.8 1663 791C1665.1 810.2 1665.9 825 1668 842C1670.1 859 1673 877.8 1675.5 893C1678 908.2 1680.6 922.2 1683 933C1685.4 943.8 1687.7 951.8 1690 958C1692.3 964.2 1694.8 967.5 1697 970C1699.2 972.5 1701.2 973.5 1703.5 973C1705.8 972.5 1709.6 967.7 1711 967C1712.4 966.3 1710.8 969.2 1712 968.7C1713.2 968.2 1716 966 1718 964.1C1720 962.1 1722 959.8 1724 957.1C1726 954.4 1728 951.3 1730 947.8C1732 944.4 1734 940.5 1736 936.4C1738 932.4 1740 927.9 1742 923.5C1744 919.2 1746 914.5 1748 910.1C1750 905.7 1752 901.1 1754 896.9C1756 892.7 1758 888.7 1760 884.8C1762 880.9 1764 877.3 1766 873.6C1768 870 1770 866.5 1772 862.7C1774 859 1776 855.3 1778 851.2C1780 847.1 1782 842.9 1784 838.3C1786 833.6 1788 828.5 1790 823.3C1792 818 1794 812.3 1796 806.8C1798 801.3 1800 795.6 1802 790.2C1804 784.8 1806 779.5 1808 774.4C1810 769.3 1812 764.3 1814 759.4C1816 754.5 1818 749.7 1820 745C1822 740.3 1824 735.8 1826 731.3C1828 726.8 1830 722.4 1832 718.1C1834 713.7 1836 709.5 1838 705.3C1840 701.1 1842 697 1844 692.9C1846 688.8 1848 684.8 1850 680.8C1852 676.9 1854 672.9 1856 669C1858 665.1 1860 661.2 1862 657.3C1864 653.5 1866 649.6 1868 645.9C1870 642.2 1872 638.5 1874 634.9C1876 631.3 1878 627.8 1880 624.3C1882 620.9 1884 617.6 1886 614.4C1888 611.2 1890 608.1 1892 605.1C1894 602 1896 599.1 1898 596.3C1900 593.5 1902 590.7 1904 588.1C1906 585.4 1908 582.8 1910 580.3C1912 577.8 1914 575.3 1916 572.9C1918 570.6 1920 568.2 1922 566C1924 563.7 1926 561.5 1928 559.3C1930 557.1 1932 555 1934 552.9C1936 550.8 1938 548.8 1940 546.7C1942 544.7 1944 542.7 1946 540.7C1948 538.7 1950 536.8 1952 534.8C1954 532.8 1956 530.9 1958 529C1960 527 1962 525.1 1964 523.1C1966 521.2 1968 519.2 1970 517.3C1972 515.4 1974 513.5 1976 511.7C1978 509.8 1980 507.9 1982 506.2C1984 504.4 1986 502.6 1988 500.9C1990 499.2 1992 497.5 1994 495.9C1996 494.3 1998 492.8 2000 491.4C2002 489.9 2004 488.5 2006 487.2C2008 485.9 2010 484.7 2012 483.6C2014 482.4 2016 481.4 2018 480.5C2020 479.5 2022 478.7 2024 478C2026 477.2 2028 476.5 2030 475.9C2032 475.3 2034 474.8 2036 474.4C2038 473.9 2040 473.5 2042 473.2C2044 472.8 2046 472.5 2048 472.3C2050 472.1 2052 471.9 2054 471.8C2056 471.7 2058 471.6 2060 471.6C2062 471.6 2064 471.7 2066 471.8C2068 471.9 2070 472 2072 472.3C2074 472.5 2076 472.7 2078 473.1C2080 473.4 2082 473.7 2084 474.2C2086 474.6 2088 475.1 2090 475.6C2092 476.1 2094 476.7 2096 477.3C2098 477.9 2100 478.6 2102 479.3C2104 480 2106 480.8 2108 481.6C2110 482.4 2112 483.3 2114 484.2C2116 485.1 2118 486 2120 487C2122 488 2124 489.1 2126 490.2C2128 491.2 2130 492.4 2132 493.5C2134 494.7 2136 495.9 2138 497.2C2140 498.4 2142 499.7 2144 501C2146 502.4 2148 503.7 2150 505.1C2152 506.5 2154 508 2156 509.4C2158 510.9 2160 512.4 2162 514C2164 515.5 2166 517.1 2168 518.7C2170 520.3 2172 521.9 2174 523.6C2176 525.3 2178 527 2180 528.7C2182 530.4 2184 532.2 2186 534C2188 535.8 2190 537.6 2192 539.4C2194 541.2 2196 543.1 2198 545C2200 546.9 2202 548.8 2204 550.7C2206 552.6 2208 554.6 2210 556.5C2212 558.5 2214 560.5 2216 562.5C2218 564.5 2220 566.5 2222 568.6C2224 570.6 2226 572.7 2228 574.8C2230 576.8 2232 578.9 2234 581C2236 583.1 2238 585.3 2240 587.4C2242 589.5 2244 591.7 2246 593.8C2248 596 2250 598.1 2252 600.3C2254 602.5 2256 604.7 2258 606.9C2260 609 2262 611.2 2264 613.4C2266 615.6 2268 617.8 2270 620C2272 622.3 2274 624.5 2276 626.7C2278 628.9 2280 631.1 2282 633.3C2284 635.5 2286 637.8 2288 640C2290 642.2 2292 644.4 2294 646.6C2296 648.8 2298 651.1 2300 653.3C2302 655.5 2304 657.7 2306 659.9C2308 662 2310 664.2 2312 666.4C2314 668.6 2316 670.8 2318 672.9C2320 675.1 2322 677.3 2324 679.4C2326 681.5 2328 683.7 2330 685.8C2332 687.9 2334 690 2336 692.1C2338 694.2 2341 697.3 2342 698.3" fill="none" stroke="#000000" stroke-width="10.5" stroke-linejoin="round" stroke-linecap="round"/>
<path d="M1443 870C1443.8 869.3 1445.8 862.3 1448 866C1450.2 869.7 1453.3 882.2 1455.9 892C1458.5 901.8 1461.4 915 1463.8 925C1466.2 935 1468.8 946.7 1470.5 952C1472.2 957.3 1472.5 961.7 1474 957C1475.5 952.3 1477.7 939.5 1479.7 924C1481.7 908.5 1484.2 879.3 1486 864C1487.8 848.7 1489 839.5 1490.8 832C1492.6 824.5 1494.9 818 1497 819C1499.1 820 1501.6 830.2 1503.5 838C1505.4 845.8 1506.7 854.3 1508.3 866C1509.9 877.7 1511.4 895.8 1513 908C1514.6 920.2 1516 929.8 1517.8 939C1519.6 948.2 1521.5 953.7 1524 963C1526.5 972.3 1530.1 985.5 1532.8 995C1535.5 1004.5 1538 1014 1540 1020C1542 1026 1543.3 1034 1545 1031C1546.7 1028 1548.2 1014.3 1550 1002C1551.8 989.7 1553.6 975.2 1555.8 957C1558 938.8 1561.1 914.3 1563.4 893C1565.7 871.7 1567.9 850.2 1569.8 829C1571.7 807.8 1573.2 780.7 1574.9 765.5C1576.6 750.3 1579.1 746.3 1580.2 737.7C1581.3 729 1581.2 721.9 1581.7 713.8C1582.2 705.7 1582.7 697.4 1583.2 689.1C1583.7 680.7 1584.2 672.2 1584.7 663.5C1585.2 654.9 1585.7 646.1 1586.2 637.3C1586.7 628.4 1587.2 619.4 1587.7 610.4C1588.2 601.3 1588.7 592.2 1589.2 583C1589.7 573.8 1590.2 564.6 1590.7 555.3C1591.2 546 1591.7 536.6 1592.2 527.3C1592.7 517.9 1593.2 508.6 1593.7 499.2C1594.2 489.9 1594.7 480.5 1595.2 471.2C1595.7 461.9 1596.2 452.7 1596.7 443.5C1597.2 434.3 1597.7 425.2 1598.2 416.2C1598.7 407.2 1599.2 398.2 1599.7 389.4C1600.2 380.6 1600.7 372 1601.2 363.5C1601.7 355 1602.2 346.6 1602.7 338.4C1603.2 330.3 1603.7 322.3 1604.2 314.6C1604.7 306.8 1605.2 299.3 1605.7 292C1606.2 284.7 1606.7 277.6 1607.2 270.9C1607.7 264.1 1608.2 257.6 1608.7 251.4C1609.2 245.2 1609.7 239.3 1610.2 233.7C1610.7 228.2 1611.2 222.9 1611.7 218C1612.2 213.1 1612.7 208.5 1613.2 204.3C1613.7 200.1 1614.2 196.3 1614.7 192.8C1615.2 189.3 1615.7 186.3 1616.2 183.6C1616.7 180.9 1617.2 178.6 1617.7 176.7C1618.2 174.8 1618.7 173.3 1619.2 172.2C1619.7 171.1 1620.2 170.4 1620.7 170.1C1621.2 169.9 1621.7 170 1622.2 170.8C1622.7 171.5 1623.2 172.8 1623.7 174.7C1624.2 176.5 1624.7 179 1625.2 181.9C1625.7 184.9 1626.2 188.4 1626.7 192.4C1627.2 196.4 1627.7 201 1628.2 206C1628.7 211 1629.2 216.6 1629.7 222.6C1630.2 228.5 1630.7 235 1631.2 241.8C1631.7 248.7 1632.2 256 1632.7 263.7C1633.2 271.3 1633.7 279.4 1634.2 287.8C1634.7 296.1 1635.2 304.9 1635.7 313.9C1636.2 322.9 1636.7 332.2 1637.2 341.7C1637.7 351.2 1638.2 361 1638.7 371C1639.2 380.9 1639.7 391.1 1640.2 401.4C1640.7 411.7 1641.2 422.2 1641.7 432.7C1642.2 443.2 1642.7 453.8 1643.2 464.5C1643.7 475.1 1644.2 485.9 1644.7 496.6C1645.2 507.3 1645.7 518 1646.2 528.7C1646.7 539.3 1647.2 550 1647.7 560.5C1648.2 571 1648.7 581.5 1649.2 591.9C1649.7 602.2 1650.2 612.4 1650.7 622.5C1651.2 632.6 1651.7 642.5 1652.2 652.3C1652.7 662 1653.2 671.6 1653.7 681C1654.2 690.4 1654.7 699.6 1655.2 708.6C1655.7 717.5 1655.4 721.1 1656.7 734.8C1658 748.6 1661.1 773.1 1663 791C1664.9 808.9 1666 825.2 1668.1 842.2C1670.2 859.2 1673.2 877.2 1675.8 893C1678.4 908.8 1681 924.8 1683.5 937C1686 949.2 1688.1 958.8 1691 966C1693.9 973.2 1697.7 978.7 1701 980C1704.3 981.3 1709.2 975 1711 974C1712.8 973 1710.8 974.8 1712 974C1713.2 973.1 1716 970.8 1718 969C1720 967.1 1722 965.2 1724 963C1726 960.8 1728 958.4 1730 955.6C1732 952.9 1734 949.8 1736 946.4C1738 943 1740 939.2 1742 935.2C1744 931.2 1746 926.9 1748 922.5C1750 918.2 1752 913.6 1754 909.2C1756 904.7 1758 900.1 1760 895.7C1762 891.3 1764 887.1 1766 882.9C1768 878.7 1770 874.7 1772 870.6C1774 866.5 1776 862.5 1778 858.4C1780 854.3 1782 850.3 1784 846C1786 841.7 1788 837.3 1790 832.8C1792 828.2 1794 823.4 1796 818.6C1798 813.8 1800 808.8 1802 803.8C1804 798.9 1806 793.9 1808 789C1810 784.2 1812 779.3 1814 774.6C1816 769.8 1818 765.1 1820 760.4C1822 755.8 1824 751.2 1826 746.7C1828 742.2 1830 737.7 1832 733.3C1834 728.9 1836 724.6 1838 720.3C1840 716.1 1842 711.9 1844 707.8C1846 703.6 1848 699.6 1850 695.6C1852 691.6 1854 687.7 1856 683.9C1858 680 1860 676.2 1862 672.6C1864 668.9 1866 665.2 1868 661.7C1870 658.2 1872 654.7 1874 651.3C1876 647.9 1878 644.6 1880 641.4C1882 638.1 1884 635 1886 631.9C1888 628.8 1890 625.8 1892 622.8C1894 619.8 1896 616.9 1898 614.1C1900 611.2 1902 608.4 1904 605.6C1906 602.8 1908 600.1 1910 597.4C1912 594.7 1914 592 1916 589.4C1918 586.7 1920 584.1 1922 581.5C1924 578.9 1926 576.4 1928 573.9C1930 571.4 1932 569 1934 566.7C1936 564.3 1938 562.1 1940 559.9C1942 557.7 1944 555.6 1946 553.5C1948 551.5 1950 549.5 1952 547.5C1954 545.6 1956 543.8 1958 542C1960 540.2 1962 538.5 1964 536.8C1966 535.1 1968 533.5 1970 532C1972 530.4 1974 529 1976 527.5C1978 526.1 1980 524.8 1982 523.4C1984 522.1 1986 520.9 1988 519.7C1990 518.5 1992 517.4 1994 516.3C1996 515.2 1998 514.2 2000 513.2C2002 512.2 2004 511.3 2006 510.4C2008 509.5 2010 508.7 2012 507.9C2014 507.1 2016 506.4 2018 505.7C2020 505 2022 504.4 2024 503.8C2026 503.2 2028 502.7 2030 502.2C2032 501.7 2034 501.2 2036 500.8C2038 500.4 2040 500 2042 499.7C2044 499.4 2046 499.1 2048 498.9C2050 498.7 2052 498.5 2054 498.4C2056 498.3 2058 498.2 2060 498.1C2062 498.1 2064 498.1 2066 498.2C2068 498.2 2070 498.4 2072 498.5C2074 498.7 2076 498.9 2078 499.2C2080 499.4 2082 499.7 2084 500.1C2086 500.4 2088 500.8 2090 501.3C2092 501.8 2094 502.3 2096 502.8C2098 503.4 2100 504 2102 504.7C2104 505.3 2106 506 2108 506.8C2110 507.6 2112 508.4 2114 509.2C2116 510.1 2118 511 2120 512C2122 513 2124 514 2126 515.1C2128 516.2 2130 517.3 2132 518.5C2134 519.6 2136 520.8 2138 522.1C2140 523.4 2142 524.7 2144 526.1C2146 527.4 2148 528.8 2150 530.3C2152 531.7 2154 533.2 2156 534.7C2158 536.3 2160 537.8 2162 539.4C2164 541 2166 542.7 2168 544.4C2170 546 2172 547.8 2174 549.5C2176 551.3 2178 553 2180 554.9C2182 556.7 2184 558.5 2186 560.4C2188 562.3 2190 564.2 2192 566.1C2194 568.1 2196 570 2198 572C2200 574 2202 576 2204 578.1C2206 580.1 2208 582.2 2210 584.3C2212 586.4 2214 588.5 2216 590.6C2218 592.7 2220 594.9 2222 597C2224 599.2 2226 601.4 2228 603.6C2230 605.8 2232 608 2234 610.2C2236 612.5 2238 614.7 2240 617C2242 619.2 2244 621.5 2246 623.8C2248 626 2250 628.3 2252 630.6C2254 632.9 2256 635.2 2258 637.5C2260 639.8 2262 642.1 2264 644.4C2266 646.8 2268 649.1 2270 651.4C2272 653.7 2274 656 2276 658.4C2278 660.7 2280 663 2282 665.3C2284 667.6 2286 670 2288 672.3C2290 674.6 2292 676.9 2294 679.2C2296 681.5 2298 683.8 2300 686.1C2302 688.3 2304 690.6 2306 692.9C2308 695.1 2310 697.4 2312 699.6C2314 701.9 2316 704.1 2318 706.3C2320 708.5 2322 710.7 2324 712.9C2326 715.1 2328 717.3 2330 719.4C2332 721.6 2334 723.7 2336 725.8C2338 727.9 2341 731 2342 732.1" fill="none" stroke="#FF0000" stroke-width="10.5" stroke-linejoin="round" stroke-linecap="round"/>
<path d="M1443 882C1443.8 880.3 1445.8 869.8 1448 872C1450.2 874.2 1453.3 885.7 1455.9 895C1458.5 904.3 1461.4 917.8 1463.8 928C1466.2 938.2 1468.8 950.5 1470.5 956C1472.2 961.5 1472.5 966.2 1474 961C1475.5 955.8 1477.7 941.5 1479.7 925C1481.7 908.5 1484.2 879.5 1486 862C1487.8 844.5 1489 829.7 1490.8 820C1492.5 810.3 1494.4 803 1496.5 804C1498.6 805 1501.5 816.2 1503.5 826C1505.5 835.8 1506.7 849.2 1508.3 863C1509.9 876.8 1511.4 896.2 1513 909C1514.6 921.8 1516 930.8 1517.8 940C1519.6 949.2 1521.5 954.7 1524 964C1526.5 973.3 1530.1 986.5 1532.8 996C1535.5 1005.5 1538 1014.8 1540 1021C1542 1027.2 1543.3 1036.2 1545 1033C1546.7 1029.8 1548.2 1014.7 1550 1002C1551.8 989.3 1553.6 975.2 1555.8 957C1558 938.8 1561.1 914.3 1563.4 893C1565.7 871.7 1567.9 850.2 1569.8 829C1571.7 807.8 1573.2 782.2 1574.9 765.5C1576.6 748.8 1579.1 739.1 1580.2 729C1581.3 718.8 1581.2 712.8 1581.7 704.4C1582.2 696.1 1582.7 687.6 1583.2 679C1583.7 670.4 1584.2 661.6 1584.7 652.7C1585.2 643.8 1585.7 634.8 1586.2 625.7C1586.7 616.6 1587.2 607.3 1587.7 598C1588.2 588.7 1588.7 579.3 1589.2 569.9C1589.7 560.4 1590.2 550.9 1590.7 541.3C1591.2 531.8 1591.7 522.2 1592.2 512.6C1592.7 502.9 1593.2 493.3 1593.7 483.7C1594.2 474.1 1594.7 464.4 1595.2 454.9C1595.7 445.3 1596.2 435.8 1596.7 426.4C1597.2 416.9 1597.7 407.5 1598.2 398.2C1598.7 389 1599.2 379.8 1599.7 370.7C1600.2 361.7 1600.7 352.8 1601.2 344C1601.7 335.3 1602.2 326.7 1602.7 318.3C1603.2 309.9 1603.7 301.7 1604.2 293.7C1604.7 285.7 1605.2 278 1605.7 270.5C1606.2 263 1606.7 255.7 1607.2 248.8C1607.7 241.8 1608.2 235.1 1608.7 228.7C1609.2 222.4 1609.7 216.3 1610.2 210.6C1610.7 204.8 1611.2 199.4 1611.7 194.4C1612.2 189.3 1612.7 184.6 1613.2 180.3C1613.7 176 1614.2 172 1614.7 168.5C1615.2 164.9 1615.7 161.7 1616.2 159C1616.7 156.2 1617.2 153.8 1617.7 151.9C1618.2 149.9 1618.7 148.4 1619.2 147.2C1619.7 146.1 1620.2 145.4 1620.7 145.1C1621.2 144.9 1621.7 145 1622.2 145.8C1622.7 146.6 1623.2 147.9 1623.7 149.8C1624.2 151.7 1624.7 154.3 1625.2 157.3C1625.7 160.3 1626.2 164 1626.7 168.1C1627.2 172.2 1627.7 176.9 1628.2 182.1C1628.7 187.3 1629.2 193 1629.7 199.1C1630.2 205.3 1630.7 212 1631.2 219C1631.7 226.1 1632.2 233.6 1632.7 241.5C1633.2 249.4 1633.7 257.7 1634.2 266.3C1634.7 274.9 1635.2 283.9 1635.7 293.2C1636.2 302.5 1636.7 312.1 1637.2 321.9C1637.7 331.7 1638.2 341.8 1638.7 352C1639.2 362.3 1639.7 372.8 1640.2 383.4C1640.7 394 1641.2 404.8 1641.7 415.6C1642.2 426.4 1642.7 437.4 1643.2 448.4C1643.7 459.3 1644.2 470.4 1644.7 481.4C1645.2 492.4 1645.7 503.5 1646.2 514.5C1646.7 525.4 1647.2 536.4 1647.7 547.3C1648.2 558.1 1648.7 568.9 1649.2 579.6C1649.7 590.2 1650.2 600.8 1650.7 611.2C1651.2 621.5 1651.7 631.8 1652.2 641.8C1652.7 651.9 1653.2 661.8 1653.7 671.4C1654.2 681.1 1654.7 690.6 1655.2 699.8C1655.7 709 1655.4 711.6 1656.7 726.8C1658 742 1661.1 771.8 1663 791C1664.9 810.2 1666 825.2 1668.1 842.2C1670.2 859.2 1673.2 877.2 1675.8 893.3C1678.4 909.4 1681 926.5 1683.5 939C1686 951.5 1688 960.5 1691 968C1694 975.5 1698.1 982.3 1701.4 984C1704.7 985.7 1709.2 978.8 1711 978C1712.8 977.2 1710.8 979.6 1712 979C1713.2 978.3 1716 976 1718 974.2C1720 972.3 1722 970.3 1724 967.9C1726 965.6 1728 963.1 1730 960.3C1732 957.6 1734 954.6 1736 951.4C1738 948.2 1740 944.7 1742 941.1C1744 937.5 1746 933.7 1748 929.7C1750 925.8 1752 921.7 1754 917.5C1756 913.2 1758 908.9 1760 904.5C1762 900.1 1764 895.6 1766 891.1C1768 886.6 1770 882.1 1772 877.5C1774 873 1776 868.5 1778 864C1780 859.5 1782 855 1784 850.7C1786 846.3 1788 842 1790 837.8C1792 833.7 1794 829.7 1796 825.7C1798 821.7 1800 817.8 1802 813.9C1804 809.9 1806 806.1 1808 802C1810 797.9 1812 793.7 1814 789.4C1816 785 1818 780.5 1820 775.9C1822 771.3 1824 766.6 1826 761.9C1828 757.2 1830 752.5 1832 747.8C1834 743.2 1836 738.5 1838 734C1840 729.5 1842 725.1 1844 720.9C1846 716.6 1848 712.6 1850 708.6C1852 704.7 1854 700.9 1856 697.2C1858 693.6 1860 690.1 1862 686.7C1864 683.3 1866 680 1868 676.8C1870 673.6 1872 670.6 1874 667.7C1876 664.7 1878 661.9 1880 659C1882 656.2 1884 653.4 1886 650.6C1888 647.8 1890 644.9 1892 642.1C1894 639.2 1896 636.2 1898 633.3C1900 630.3 1902 627.3 1904 624.4C1906 621.4 1908 618.4 1910 615.5C1912 612.5 1914 609.6 1916 606.8C1918 603.9 1920 601.1 1922 598.4C1924 595.7 1926 593.1 1928 590.6C1930 588.1 1932 585.7 1934 583.4C1936 581.1 1938 579 1940 576.9C1942 574.8 1944 572.8 1946 570.9C1948 569 1950 567.2 1952 565.4C1954 563.7 1956 562 1958 560.3C1960 558.7 1962 557.1 1964 555.5C1966 554 1968 552.5 1970 551C1972 549.6 1974 548.1 1976 546.8C1978 545.4 1980 544.1 1982 542.8C1984 541.5 1986 540.3 1988 539.1C1990 537.9 1992 536.8 1994 535.7C1996 534.6 1998 533.5 2000 532.5C2002 531.5 2004 530.6 2006 529.7C2008 528.7 2010 527.9 2012 527.1C2014 526.2 2016 525.5 2018 524.7C2020 524 2022 523.3 2024 522.7C2026 522.1 2028 521.5 2030 520.9C2032 520.4 2034 519.9 2036 519.4C2038 519 2040 518.6 2042 518.2C2044 517.9 2046 517.6 2048 517.3C2050 517 2052 516.8 2054 516.7C2056 516.5 2058 516.4 2060 516.3C2062 516.2 2064 516.2 2066 516.2C2068 516.2 2070 516.3 2072 516.4C2074 516.6 2076 516.7 2078 517C2080 517.2 2082 517.5 2084 517.9C2086 518.2 2088 518.6 2090 519.1C2092 519.5 2094 520.1 2096 520.6C2098 521.2 2100 521.9 2102 522.6C2104 523.3 2106 524.1 2108 524.9C2110 525.7 2112 526.6 2114 527.6C2116 528.6 2118 529.6 2120 530.7C2122 531.8 2124 533 2126 534.3C2128 535.5 2130 536.8 2132 538.2C2134 539.5 2136 540.9 2138 542.3C2140 543.8 2142 545.3 2144 546.8C2146 548.3 2148 549.8 2150 551.4C2152 553 2154 554.6 2156 556.2C2158 557.8 2160 559.5 2162 561.2C2164 562.8 2166 564.5 2168 566.3C2170 568 2172 569.8 2174 571.6C2176 573.4 2178 575.2 2180 577C2182 578.8 2184 580.7 2186 582.6C2188 584.5 2190 586.4 2192 588.3C2194 590.2 2196 592.2 2198 594.1C2200 596.1 2202 598.1 2204 600.1C2206 602.1 2208 604.2 2210 606.2C2212 608.3 2214 610.4 2216 612.5C2218 614.5 2220 616.7 2222 618.8C2224 620.9 2226 623.1 2228 625.2C2230 627.4 2232 629.6 2234 631.8C2236 634 2238 636.2 2240 638.4C2242 640.6 2244 642.9 2246 645.1C2248 647.4 2250 649.6 2252 651.9C2254 654.2 2256 656.5 2258 658.8C2260 661.1 2262 663.4 2264 665.7C2266 668.1 2268 670.4 2270 672.8C2272 675.1 2274 677.5 2276 679.8C2278 682.2 2280 684.6 2282 687C2284 689.3 2286 691.7 2288 694.1C2290 696.5 2292 698.8 2294 701.2C2296 703.5 2298 705.8 2300 708.1C2302 710.4 2304 712.6 2306 714.8C2308 717 2310 719.2 2312 721.3C2314 723.4 2316 725.4 2318 727.4C2320 729.3 2322 731.2 2324 733.1C2326 734.9 2328 736.6 2330 738.3C2332 739.9 2334 741.5 2336 742.9C2338 744.4 2341 746.3 2342 746.9" fill="none" stroke="#0000F5" stroke-width="10.5" stroke-linejoin="round" stroke-linecap="round"/>
<path d="M1443 864C1443.8 863.8 1445.8 858.5 1448 863C1450.2 867.5 1453.3 881 1455.9 891C1458.5 901 1461.4 913.2 1463.8 923C1466.2 932.8 1468.8 944.5 1470.5 950C1472.2 955.5 1472.5 960.5 1474 956C1475.5 951.5 1477.7 939.2 1479.7 923C1481.7 906.8 1484.2 877.3 1486 859C1487.8 840.7 1489.1 823.3 1490.8 813C1492.5 802.7 1494.2 795.8 1496.3 797C1498.4 798.2 1501.5 809.7 1503.5 820C1505.5 830.3 1506.7 844.5 1508.3 859C1509.9 873.5 1511.4 893.7 1513 907C1514.6 920.3 1516 929.5 1517.8 938.7C1519.6 947.9 1521.5 952.6 1524 962C1526.5 971.4 1530.1 985 1532.8 995C1535.5 1005 1537.9 1015 1540 1022C1542.1 1029 1543.8 1040.2 1545.5 1037C1547.2 1033.8 1548.3 1016.3 1550 1003C1551.7 989.7 1553.6 975.3 1555.8 957C1558 938.7 1561.1 914.3 1563.4 893C1565.7 871.7 1567.9 850.2 1569.8 829C1571.7 807.8 1573.4 780.3 1574.9 765.5C1576.4 750.7 1577.8 748.7 1578.7 740.5C1579.6 732.2 1579.7 724.3 1580.2 715.9C1580.7 707.6 1581.2 699 1581.7 690.4C1582.2 681.7 1582.7 672.8 1583.2 663.9C1583.7 654.9 1584.2 645.7 1584.7 636.5C1585.2 627.2 1585.7 617.8 1586.2 608.3C1586.7 598.8 1587.2 589.2 1587.7 579.5C1588.2 569.8 1588.7 560 1589.2 550.2C1589.7 540.3 1590.2 530.4 1590.7 520.4C1591.2 510.5 1591.7 500.5 1592.2 490.5C1592.7 480.4 1593.2 470.4 1593.7 460.4C1594.2 450.4 1594.7 440.3 1595.2 430.4C1595.7 420.4 1596.2 410.5 1596.7 400.6C1597.2 390.8 1597.7 381 1598.2 371.3C1598.7 361.7 1599.2 352.1 1599.7 342.7C1600.2 333.3 1600.7 324 1601.2 314.9C1601.7 305.7 1602.2 296.8 1602.7 288C1603.2 279.3 1603.7 270.7 1604.2 262.4C1604.7 254.1 1605.2 246 1605.7 238.2C1606.2 230.4 1606.7 222.9 1607.2 215.6C1607.7 208.4 1608.2 201.4 1608.7 194.8C1609.2 188.1 1609.7 181.8 1610.2 175.8C1610.7 169.8 1611.2 164.2 1611.7 158.9C1612.2 153.7 1612.7 148.8 1613.2 144.3C1613.7 139.8 1614.2 135.7 1614.7 131.9C1615.2 128.2 1615.7 124.9 1616.2 122C1616.7 119.2 1617.2 116.7 1617.7 114.7C1618.2 112.6 1618.7 111 1619.2 109.8C1619.7 108.7 1620.2 107.9 1620.7 107.6C1621.2 107.4 1621.7 107.5 1622.2 108.3C1622.7 109.1 1623.2 110.5 1623.7 112.5C1624.2 114.5 1624.7 117.2 1625.2 120.3C1625.7 123.5 1626.2 127.3 1626.7 131.6C1627.2 135.9 1627.7 140.8 1628.2 146.2C1628.7 151.6 1629.2 157.6 1629.7 164C1630.2 170.4 1630.7 177.4 1631.2 184.8C1631.7 192.1 1632.2 200 1632.7 208.2C1633.2 216.4 1633.7 225.1 1634.2 234.1C1634.7 243.1 1635.2 252.5 1635.7 262.2C1636.2 271.9 1636.7 281.9 1637.2 292.1C1637.7 302.4 1638.2 312.9 1638.7 323.6C1639.2 334.3 1639.7 345.3 1640.2 356.3C1640.7 367.4 1641.2 378.6 1641.7 390C1642.2 401.3 1642.7 412.7 1643.2 424.2C1643.7 435.6 1644.2 447.2 1644.7 458.7C1645.2 470.2 1645.7 481.7 1646.2 493.2C1646.7 504.6 1647.2 516.1 1647.7 527.4C1648.2 538.7 1648.7 550 1649.2 561.1C1649.7 572.2 1650.2 583.3 1650.7 594.1C1651.2 604.9 1651.7 615.6 1652.2 626.1C1652.7 636.6 1653.2 646.9 1653.7 657C1654.2 667.1 1654.7 677 1655.2 686.6C1655.7 696.3 1655.4 697.5 1656.7 714.9C1658 732.2 1661.1 769.8 1663 791C1664.9 812.2 1666 825.2 1668.1 842.2C1670.2 859.2 1673.2 877.1 1675.8 893.3C1678.4 909.5 1681 926.4 1683.5 939.2C1686 952 1688.1 961.9 1691.1 970C1694.1 978.1 1698.2 985.7 1701.5 988C1704.8 990.3 1709.2 984.5 1711 984C1712.8 983.5 1710.8 985.4 1712 984.9C1713.2 984.3 1716 982.3 1718 980.6C1720 978.9 1722 977 1724 974.7C1726 972.5 1728 969.9 1730 967.2C1732 964.4 1734 961.3 1736 958.1C1738 954.9 1740 951.4 1742 947.8C1744 944.2 1746 940.3 1748 936.4C1750 932.5 1752 928.3 1754 924.2C1756 920 1758 915.6 1760 911.3C1762 906.9 1764 902.4 1766 897.9C1768 893.5 1770 888.9 1772 884.4C1774 879.9 1776 875.3 1778 870.8C1780 866.3 1782 861.8 1784 857.4C1786 853 1788 848.6 1790 844.4C1792 840.2 1794 836.1 1796 832C1798 828 1800 824.1 1802 820.2C1804 816.3 1806 812.4 1808 808.5C1810 804.5 1812 800.6 1814 796.5C1816 792.4 1818 788.1 1820 783.8C1822 779.5 1824 774.9 1826 770.4C1828 765.9 1830 761.3 1832 756.8C1834 752.2 1836 747.6 1838 743.1C1840 738.7 1842 734.2 1844 729.9C1846 725.7 1848 721.5 1850 717.5C1852 713.5 1854 709.6 1856 705.9C1858 702.2 1860 698.6 1862 695.2C1864 691.8 1866 688.5 1868 685.4C1870 682.3 1872 679.3 1874 676.6C1876 673.8 1878 671.2 1880 668.6C1882 666.1 1884 663.8 1886 661.4C1888 659 1890 656.7 1892 654.2C1894 651.7 1896 649.1 1898 646.3C1900 643.5 1902 640.3 1904 637.2C1906 634 1908 630.6 1910 627.4C1912 624.2 1914 620.9 1916 617.9C1918 614.9 1920 612.1 1922 609.5C1924 606.8 1926 604.4 1928 602.1C1930 599.8 1932 597.6 1934 595.5C1936 593.4 1938 591.4 1940 589.5C1942 587.5 1944 585.6 1946 583.7C1948 581.9 1950 580 1952 578.3C1954 576.5 1956 574.8 1958 573.1C1960 571.4 1962 569.7 1964 568.2C1966 566.6 1968 565 1970 563.5C1972 562 1974 560.6 1976 559.2C1978 557.8 1980 556.4 1982 555.1C1984 553.8 1986 552.5 1988 551.3C1990 550.1 1992 548.9 1994 547.8C1996 546.7 1998 545.7 2000 544.6C2002 543.6 2004 542.7 2006 541.7C2008 540.8 2010 540 2012 539.1C2014 538.3 2016 537.6 2018 536.9C2020 536.1 2022 535.5 2024 534.9C2026 534.2 2028 533.7 2030 533.2C2032 532.7 2034 532.2 2036 531.8C2038 531.4 2040 531 2042 530.7C2044 530.4 2046 530.2 2048 530C2050 529.8 2052 529.7 2054 529.6C2056 529.5 2058 529.4 2060 529.4C2062 529.5 2064 529.5 2066 529.6C2068 529.7 2070 529.9 2072 530.1C2074 530.3 2076 530.6 2078 530.9C2080 531.3 2082 531.6 2084 532.1C2086 532.5 2088 532.9 2090 533.5C2092 534 2094 534.6 2096 535.2C2098 535.8 2100 536.5 2102 537.2C2104 538 2106 538.7 2108 539.6C2110 540.4 2112 541.3 2114 542.2C2116 543.1 2118 544.1 2120 545.2C2122 546.2 2124 547.3 2126 548.4C2128 549.5 2130 550.7 2132 551.9C2134 553.2 2136 554.4 2138 555.7C2140 557.1 2142 558.4 2144 559.8C2146 561.2 2148 562.7 2150 564.2C2152 565.6 2154 567.2 2156 568.7C2158 570.3 2160 571.9 2162 573.6C2164 575.2 2166 576.9 2168 578.6C2170 580.3 2172 582 2174 583.8C2176 585.6 2178 587.4 2180 589.3C2182 591.1 2184 593 2186 594.9C2188 596.8 2190 598.7 2192 600.7C2194 602.6 2196 604.6 2198 606.6C2200 608.7 2202 610.7 2204 612.8C2206 614.8 2208 616.9 2210 619C2212 621.1 2214 623.2 2216 625.4C2218 627.5 2220 629.7 2222 631.9C2224 634.1 2226 636.3 2228 638.5C2230 640.7 2232 642.9 2234 645.2C2236 647.4 2238 649.7 2240 652C2242 654.2 2244 656.5 2246 658.8C2248 661.1 2250 663.4 2252 665.7C2254 668 2256 670.4 2258 672.7C2260 675 2262 677.3 2264 679.7C2266 682 2268 684.4 2270 686.7C2272 689 2274 691.4 2276 693.7C2278 696.1 2280 698.4 2282 700.8C2284 703.1 2286 705.4 2288 707.8C2290 710.1 2292 712.5 2294 714.8C2296 717.1 2298 719.4 2300 721.7C2302 724.1 2304 726.4 2306 728.7C2308 731 2310 733.3 2312 735.5C2314 737.8 2316 740.1 2318 742.3C2320 744.6 2322 746.8 2324 749.1C2326 751.3 2328 753.5 2330 755.7C2332 757.9 2334 760 2336 762.2C2338 764.4 2341 767.5 2342 768.6" fill="none" stroke="#FF00FF" stroke-width="10.5" stroke-linejoin="round" stroke-linecap="round"/>
</g>
<rect x="1600.4" y="89.3" width="41.1" height="195.9" fill="none" stroke="#000" stroke-width="5" stroke-dasharray="22 16.5"/>
<rect x="1472.1" y="783.8" width="43.5" height="164.1" fill="none" stroke="#000" stroke-width="5" stroke-dasharray="22 16.5"/>
<line x1="1647" y1="92.5" x2="1695" y2="108" stroke="#555" stroke-width="2.2" stroke-dasharray="6 5"/>
<line x1="1644" y1="287" x2="1697" y2="533" stroke="#555" stroke-width="2.2" stroke-dasharray="6 5"/>
<line x1="1456.7" y1="759.3" x2="1471.6" y2="784" stroke="#555" stroke-width="2.2" stroke-dasharray="6 5"/>
<line x1="1556.8" y1="759.3" x2="1521" y2="786" stroke="#555" stroke-width="2.2" stroke-dasharray="6 5"/>
<rect x="1697.8" y="107.4" width="195.6" height="431.5" fill="#fff" stroke="#000" stroke-width="2.2"/>
<g clip-path="url(#ci1)">
<path d="M1704 555.8C1704.3 554.2 1705.3 549.1 1706 545.8C1706.7 542.5 1707.3 539.2 1708 536C1708.7 532.7 1709.3 529.5 1710 526.4C1710.7 523.2 1711.3 520.1 1712 517C1712.7 513.9 1713.3 510.8 1714 507.8C1714.7 504.7 1715.3 501.7 1716 498.8C1716.7 495.8 1717.3 492.9 1718 490C1718.7 487.1 1719.3 484.3 1720 481.4C1720.7 478.6 1721.3 475.8 1722 473.1C1722.7 470.3 1723.3 467.6 1724 465C1724.7 462.3 1725.3 459.6 1726 457C1726.7 454.4 1727.3 451.8 1728 449.3C1728.7 446.8 1729.3 444.3 1730 441.8C1730.7 439.3 1731.3 436.9 1732 434.5C1732.7 432.1 1733.3 429.8 1734 427.4C1734.7 425.1 1735.3 422.8 1736 420.6C1736.7 418.3 1737.3 416.1 1738 413.9C1738.7 411.7 1739.3 409.6 1740 407.5C1740.7 405.3 1741.3 403.3 1742 401.2C1742.7 399.2 1743.3 397.2 1744 395.2C1744.7 393.2 1745.3 391.3 1746 389.4C1746.7 387.5 1747.3 385.6 1748 383.8C1748.7 382 1749.3 380.2 1750 378.4C1750.7 376.7 1751.3 374.9 1752 373.2C1752.7 371.6 1753.3 369.9 1754 368.3C1754.7 366.7 1755.3 365.1 1756 363.5C1756.7 362 1757.3 360.5 1758 359C1758.7 357.5 1759.3 356.1 1760 354.7C1760.7 353.3 1761.3 351.9 1762 350.6C1762.7 349.2 1763.3 347.9 1764 346.7C1764.7 345.4 1765.3 344.2 1766 343C1766.7 341.8 1767.3 340.6 1768 339.5C1768.7 338.4 1769.3 337.3 1770 336.2C1770.7 335.2 1771.3 334.2 1772 333.2C1772.7 332.2 1773.3 331.3 1774 330.4C1774.7 329.5 1775.3 328.6 1776 327.7C1776.7 326.9 1777.3 326.1 1778 325.3C1778.7 324.6 1779.3 323.8 1780 323.1C1780.7 322.4 1781.3 321.8 1782 321.2C1782.7 320.5 1783.3 320 1784 319.4C1784.7 318.8 1785.3 318.3 1786 317.9C1786.7 317.4 1787.3 316.9 1788 316.5C1788.7 316.1 1789.3 315.7 1790 315.4C1790.7 315.1 1791.3 314.8 1792 314.5C1792.7 314.2 1793.3 314 1794 313.8C1794.7 313.6 1795.3 313.4 1796 313.3C1796.7 313.2 1797.3 313.1 1798 313.1C1798.7 313 1799.3 313 1800 313C1800.7 313.1 1801.3 313.1 1802 313.2C1802.7 313.4 1803.3 313.5 1804 313.7C1804.7 313.9 1805.3 314.1 1806 314.4C1806.7 314.7 1807.3 315 1808 315.4C1808.7 315.7 1809.3 316.1 1810 316.6C1810.7 317 1811.3 317.5 1812 318C1812.7 318.6 1813.3 319.1 1814 319.7C1814.7 320.3 1815.3 321 1816 321.7C1816.7 322.4 1817.3 323.1 1818 323.9C1818.7 324.7 1819.3 325.5 1820 326.3C1820.7 327.2 1821.3 328.1 1822 329C1822.7 329.9 1823.3 330.9 1824 331.9C1824.7 333 1825.3 334 1826 335.1C1826.7 336.2 1827.3 337.4 1828 338.6C1828.7 339.7 1829.3 341 1830 342.2C1830.7 343.5 1831.3 344.8 1832 346.1C1832.7 347.5 1833.3 348.9 1834 350.3C1834.7 351.7 1835.3 353.2 1836 354.7C1836.7 356.2 1837.3 357.8 1838 359.4C1838.7 361 1839.3 362.6 1840 364.3C1840.7 366 1841.3 367.7 1842 369.4C1842.7 371.2 1843.3 373 1844 374.8C1844.7 376.7 1845.3 378.5 1846 380.5C1846.7 382.4 1847.3 384.3 1848 386.3C1848.7 388.3 1849.3 390.4 1850 392.5C1850.7 394.5 1851.3 396.7 1852 398.8C1852.7 401 1853.3 403.2 1854 405.4C1854.7 407.7 1855.3 410 1856 412.3C1856.7 414.6 1857.3 417 1858 419.4C1858.7 421.8 1859.3 424.3 1860 426.7C1860.7 429.2 1861.3 431.8 1862 434.3C1862.7 436.9 1863.3 439.5 1864 442.2C1864.7 444.8 1865.3 447.5 1866 450.3C1866.7 453 1867.3 455.8 1868 458.6C1868.7 461.4 1869.3 464.2 1870 467.1C1870.7 470 1871.3 473 1872 476C1872.7 478.9 1873.3 482 1874 485C1874.7 488.1 1875.3 491.2 1876 494.3C1876.7 497.5 1877.3 500.6 1878 503.9C1878.7 507.1 1879.3 510.3 1880 513.6C1880.7 516.9 1881.3 520.3 1882 523.7C1882.7 527.1 1883.3 530.5 1884 533.9C1884.7 537.4 1885.3 540.9 1886 544.5C1886.7 548 1887.7 553.4 1888 555.2" fill="none" stroke="#000" stroke-width="8" stroke-linejoin="round" stroke-linecap="round"/>
<path d="M1700 551.7C1700.3 549.8 1701.3 544 1702 540.2C1702.7 536.4 1703.3 532.7 1704 528.9C1704.7 525.2 1705.3 521.5 1706 517.8C1706.7 514.2 1707.3 510.5 1708 506.9C1708.7 503.3 1709.3 499.7 1710 496.2C1710.7 492.6 1711.3 489.1 1712 485.6C1712.7 482.2 1713.3 478.7 1714 475.3C1714.7 471.9 1715.3 468.5 1716 465.1C1716.7 461.8 1717.3 458.5 1718 455.2C1718.7 451.9 1719.3 448.6 1720 445.4C1720.7 442.2 1721.3 439 1722 435.8C1722.7 432.7 1723.3 429.5 1724 426.4C1724.7 423.3 1725.3 420.3 1726 417.2C1726.7 414.2 1727.3 411.2 1728 408.2C1728.7 405.3 1729.3 402.3 1730 399.4C1730.7 396.5 1731.3 393.7 1732 390.8C1732.7 388 1733.3 385.2 1734 382.4C1734.7 379.7 1735.3 376.9 1736 374.2C1736.7 371.5 1737.3 368.9 1738 366.2C1738.7 363.6 1739.3 361 1740 358.4C1740.7 355.8 1741.3 353.3 1742 350.8C1742.7 348.3 1743.3 345.8 1744 343.4C1744.7 341 1745.3 338.6 1746 336.2C1746.7 333.8 1747.3 331.5 1748 329.2C1748.7 326.9 1749.3 324.6 1750 322.4C1750.7 320.2 1751.3 318 1752 315.8C1752.7 313.7 1753.3 311.6 1754 309.5C1754.7 307.4 1755.3 305.3 1756 303.3C1756.7 301.3 1757.3 299.3 1758 297.3C1758.7 295.4 1759.3 293.5 1760 291.6C1760.7 289.7 1761.3 287.9 1762 286.1C1762.7 284.3 1763.3 282.5 1764 280.7C1764.7 279 1765.3 277.3 1766 275.6C1766.7 274 1767.3 272.3 1768 270.8C1768.7 269.2 1769.3 267.6 1770 266.1C1770.7 264.6 1771.3 263.1 1772 261.6C1772.7 260.2 1773.3 258.8 1774 257.4C1774.7 256 1775.3 254.7 1776 253.4C1776.7 252.1 1777.3 250.9 1778 249.7C1778.7 248.4 1779.3 247.3 1780 246.1C1780.7 245 1781.3 243.9 1782 242.8C1782.7 241.7 1783.3 240.7 1784 239.7C1784.7 238.7 1785.3 237.8 1786 236.9C1786.7 236 1787.3 235.1 1788 234.3C1788.7 233.5 1789.3 232.7 1790 232C1790.7 231.2 1791.3 230.5 1792 229.9C1792.7 229.2 1793.3 228.6 1794 228C1794.7 227.5 1795.3 226.9 1796 226.5C1796.7 226 1797.3 225.5 1798 225.2C1798.7 224.8 1799.3 224.4 1800 224.1C1800.7 223.8 1801.3 223.6 1802 223.4C1802.7 223.2 1803.3 223.1 1804 223C1804.7 222.9 1805.3 222.9 1806 223C1806.7 223.1 1807.3 223.3 1808 223.6C1808.7 223.8 1809.3 224.2 1810 224.5C1810.7 224.9 1811.3 225.4 1812 225.9C1812.7 226.5 1813.3 227.1 1814 227.7C1814.7 228.4 1815.3 229.1 1816 229.9C1816.7 230.6 1817.3 231.5 1818 232.4C1818.7 233.3 1819.3 234.2 1820 235.2C1820.7 236.2 1821.3 237.3 1822 238.4C1822.7 239.5 1823.3 240.7 1824 242C1824.7 243.2 1825.3 244.5 1826 245.8C1826.7 247.2 1827.3 248.6 1828 250C1828.7 251.5 1829.3 253 1830 254.5C1830.7 256.1 1831.3 257.7 1832 259.4C1832.7 261 1833.3 262.7 1834 264.5C1834.7 266.3 1835.3 268.1 1836 270C1836.7 271.8 1837.3 273.8 1838 275.7C1838.7 277.7 1839.3 279.7 1840 281.8C1840.7 283.9 1841.3 286 1842 288.2C1842.7 290.4 1843.3 292.6 1844 294.9C1844.7 297.1 1845.3 299.5 1846 301.8C1846.7 304.2 1847.3 306.6 1848 309.1C1848.7 311.6 1849.3 314.1 1850 316.7C1850.7 319.2 1851.3 321.9 1852 324.5C1852.7 327.2 1853.3 329.9 1854 332.7C1854.7 335.4 1855.3 338.2 1856 341.1C1856.7 344 1857.3 346.9 1858 349.8C1858.7 352.8 1859.3 355.8 1860 358.8C1860.7 361.9 1861.3 365 1862 368.1C1862.7 371.2 1863.3 374.4 1864 377.7C1864.7 380.9 1865.3 384.2 1866 387.5C1866.7 390.8 1867.3 394.2 1868 397.6C1868.7 401 1869.3 404.5 1870 408C1870.7 411.5 1871.3 415.1 1872 418.7C1872.7 422.3 1873.3 425.9 1874 429.6C1874.7 433.3 1875.3 437.1 1876 440.9C1876.7 444.6 1877.3 448.5 1878 452.4C1878.7 456.2 1879.3 460.1 1880 464.1C1880.7 468.1 1881.3 472.1 1882 476.1C1882.7 480.2 1883.3 484.3 1884 488.4C1884.7 492.6 1885.3 496.8 1886 501C1886.7 505.2 1887.3 509.5 1888 513.8C1888.7 518.2 1889.3 522.5 1890 526.9C1890.7 531.4 1891.3 535.8 1892 540.3C1892.7 544.8 1893.7 551.7 1894 553.9" fill="none" stroke="#FF0000" stroke-width="8" stroke-linejoin="round" stroke-linecap="round"/>
<path d="M1708 545.2C1708.3 542.6 1709.3 534.8 1710 529.6C1710.7 524.5 1711.3 519.4 1712 514.4C1712.7 509.4 1713.3 504.4 1714 499.5C1714.7 494.6 1715.3 489.7 1716 484.9C1716.7 480.1 1717.3 475.4 1718 470.7C1718.7 466 1719.3 461.3 1720 456.8C1720.7 452.2 1721.3 447.6 1722 443.2C1722.7 438.7 1723.3 434.3 1724 429.9C1724.7 425.6 1725.3 421.3 1726 417C1726.7 412.8 1727.3 408.6 1728 404.4C1728.7 400.3 1729.3 396.2 1730 392.2C1730.7 388.1 1731.3 384.2 1732 380.3C1732.7 376.3 1733.3 372.5 1734 368.7C1734.7 364.9 1735.3 361.1 1736 357.4C1736.7 353.7 1737.3 350.1 1738 346.5C1738.7 342.9 1739.3 339.4 1740 335.9C1740.7 332.4 1741.3 329 1742 325.6C1742.7 322.3 1743.3 319 1744 315.7C1744.7 312.5 1745.3 309.3 1746 306.1C1746.7 303 1747.3 299.9 1748 296.9C1748.7 293.8 1749.3 290.9 1750 287.9C1750.7 285 1751.3 282.1 1752 279.3C1752.7 276.5 1753.3 273.8 1754 271.1C1754.7 268.4 1755.3 265.7 1756 263.1C1756.7 260.6 1757.3 258 1758 255.5C1758.7 253.1 1759.3 250.6 1760 248.3C1760.7 245.9 1761.3 243.6 1762 241.3C1762.7 239.1 1763.3 236.9 1764 234.7C1764.7 232.6 1765.3 230.5 1766 228.5C1766.7 226.4 1767.3 224.5 1768 222.5C1768.7 220.6 1769.3 218.7 1770 216.9C1770.7 215.1 1771.3 213.4 1772 211.7C1772.7 210 1773.3 208.3 1774 206.7C1774.7 205.1 1775.3 203.6 1776 202.1C1776.7 200.6 1777.3 199.2 1778 197.9C1778.7 196.5 1779.3 195.2 1780 193.9C1780.7 192.7 1781.3 191.5 1782 190.3C1782.7 189.2 1783.3 188.1 1784 187C1784.7 186 1785.3 185 1786 184.1C1786.7 183.2 1787.3 182.3 1788 181.5C1788.7 180.7 1789.3 179.9 1790 179.2C1790.7 178.5 1791.3 177.9 1792 177.3C1792.7 176.7 1793.3 176.2 1794 175.7C1794.7 175.2 1795.3 174.8 1796 174.4C1796.7 174 1797.3 173.7 1798 173.5C1798.7 173.2 1799.3 173 1800 172.9C1800.7 172.7 1801.3 172.6 1802 172.6C1802.7 172.6 1803.3 172.6 1804 172.7C1804.7 172.8 1805.3 172.9 1806 173.2C1806.7 173.4 1807.3 173.7 1808 174.1C1808.7 174.4 1809.3 174.8 1810 175.3C1810.7 175.8 1811.3 176.4 1812 177C1812.7 177.7 1813.3 178.4 1814 179.1C1814.7 179.9 1815.3 180.7 1816 181.6C1816.7 182.5 1817.3 183.5 1818 184.5C1818.7 185.5 1819.3 186.6 1820 187.8C1820.7 189 1821.3 190.2 1822 191.5C1822.7 192.8 1823.3 194.2 1824 195.6C1824.7 197 1825.3 198.5 1826 200.1C1826.7 201.6 1827.3 203.3 1828 205C1828.7 206.7 1829.3 208.4 1830 210.3C1830.7 212.1 1831.3 214 1832 216C1832.7 217.9 1833.3 219.9 1834 222C1834.7 224.1 1835.3 226.3 1836 228.5C1836.7 230.8 1837.3 233.1 1838 235.4C1838.7 237.8 1839.3 240.2 1840 242.7C1840.7 245.2 1841.3 247.8 1842 250.4C1842.7 253 1843.3 255.7 1844 258.5C1844.7 261.3 1845.3 264.1 1846 267C1846.7 269.9 1847.3 272.8 1848 275.9C1848.7 278.9 1849.3 282 1850 285.2C1850.7 288.3 1851.3 291.6 1852 294.9C1852.7 298.1 1853.3 301.5 1854 304.9C1854.7 308.4 1855.3 311.9 1856 315.4C1856.7 319 1857.3 322.6 1858 326.3C1858.7 330 1859.3 333.8 1860 337.6C1860.7 341.4 1861.3 345.3 1862 349.3C1862.7 353.2 1863.3 357.3 1864 361.4C1864.7 365.5 1865.3 369.6 1866 373.8C1866.7 378.1 1867.3 382.4 1868 386.7C1868.7 391.1 1869.3 395.5 1870 400C1870.7 404.5 1871.3 409.1 1872 413.7C1872.7 418.3 1873.3 423 1874 427.8C1874.7 432.5 1875.3 437.3 1876 442.2C1876.7 447.1 1877.3 452.1 1878 457.1C1878.7 462.1 1879.3 467.2 1880 472.4C1880.7 477.5 1881.3 482.8 1882 488.1C1882.7 493.3 1883.3 498.7 1884 504.1C1884.7 509.5 1885.3 515 1886 520.6C1886.7 526.1 1887.3 531.8 1888 537.5C1888.7 543.1 1889.7 551.9 1890 554.7" fill="none" stroke="#0000F5" stroke-width="8" stroke-linejoin="round" stroke-linecap="round"/>
<path d="M1694 547.8C1694.3 545.6 1695.3 538.9 1696 534.5C1696.7 530.2 1697.3 525.8 1698 521.5C1698.7 517.2 1699.3 512.9 1700 508.7C1700.7 504.5 1701.3 500.2 1702 496.1C1702.7 491.9 1703.3 487.7 1704 483.6C1704.7 479.5 1705.3 475.4 1706 471.4C1706.7 467.3 1707.3 463.3 1708 459.3C1708.7 455.3 1709.3 451.4 1710 447.4C1710.7 443.5 1711.3 439.6 1712 435.8C1712.7 431.9 1713.3 428.1 1714 424.3C1714.7 420.5 1715.3 416.8 1716 413C1716.7 409.3 1717.3 405.6 1718 402C1718.7 398.3 1719.3 394.7 1720 391.1C1720.7 387.5 1721.3 384 1722 380.4C1722.7 376.9 1723.3 373.4 1724 370C1724.7 366.5 1725.3 363.1 1726 359.7C1726.7 356.3 1727.3 353 1728 349.6C1728.7 346.3 1729.3 343 1730 339.8C1730.7 336.5 1731.3 333.3 1732 330.1C1732.7 326.9 1733.3 323.8 1734 320.7C1734.7 317.6 1735.3 314.5 1736 311.4C1736.7 308.4 1737.3 305.4 1738 302.4C1738.7 299.4 1739.3 296.5 1740 293.6C1740.7 290.7 1741.3 287.8 1742 285C1742.7 282.1 1743.3 279.3 1744 276.6C1744.7 273.8 1745.3 271.1 1746 268.4C1746.7 265.7 1747.3 263 1748 260.4C1748.7 257.8 1749.3 255.2 1750 252.7C1750.7 250.1 1751.3 247.6 1752 245.1C1752.7 242.7 1753.3 240.2 1754 237.8C1754.7 235.4 1755.3 233.1 1756 230.7C1756.7 228.4 1757.3 226.1 1758 223.9C1758.7 221.6 1759.3 219.4 1760 217.2C1760.7 215 1761.3 212.9 1762 210.8C1762.7 208.7 1763.3 206.6 1764 204.6C1764.7 202.6 1765.3 200.6 1766 198.7C1766.7 196.7 1767.3 194.8 1768 192.9C1768.7 191.1 1769.3 189.2 1770 187.4C1770.7 185.7 1771.3 183.9 1772 182.2C1772.7 180.5 1773.3 178.8 1774 177.2C1774.7 175.6 1775.3 174 1776 172.4C1776.7 170.9 1777.3 169.4 1778 167.9C1778.7 166.4 1779.3 165 1780 163.6C1780.7 162.2 1781.3 160.9 1782 159.6C1782.7 158.3 1783.3 157.1 1784 155.9C1784.7 154.6 1785.3 153.5 1786 152.4C1786.7 151.2 1787.3 150.2 1788 149.1C1788.7 148.1 1789.3 147.1 1790 146.2C1790.7 145.2 1791.3 144.3 1792 143.5C1792.7 142.7 1793.3 141.9 1794 141.1C1794.7 140.4 1795.3 139.7 1796 139C1796.7 138.4 1797.3 137.8 1798 137.2C1798.7 136.7 1799.3 136.2 1800 135.8C1800.7 135.3 1801.3 135 1802 134.6C1802.7 134.3 1803.3 134.1 1804 133.9C1804.7 133.7 1805.3 133.5 1806 133.5C1806.7 133.5 1807.3 133.7 1808 133.9C1808.7 134.1 1809.3 134.5 1810 134.9C1810.7 135.3 1811.3 135.8 1812 136.4C1812.7 137 1813.3 137.7 1814 138.4C1814.7 139.2 1815.3 140 1816 140.9C1816.7 141.8 1817.3 142.8 1818 143.9C1818.7 144.9 1819.3 146 1820 147.2C1820.7 148.4 1821.3 149.7 1822 151C1822.7 152.3 1823.3 153.7 1824 155.2C1824.7 156.6 1825.3 158.2 1826 159.7C1826.7 161.3 1827.3 163 1828 164.7C1828.7 166.4 1829.3 168.2 1830 170C1830.7 171.9 1831.3 173.8 1832 175.7C1832.7 177.7 1833.3 179.7 1834 181.8C1834.7 183.9 1835.3 186 1836 188.2C1836.7 190.5 1837.3 192.7 1838 195C1838.7 197.4 1839.3 199.7 1840 202.2C1840.7 204.6 1841.3 207.1 1842 209.7C1842.7 212.2 1843.3 214.8 1844 217.5C1844.7 220.2 1845.3 222.9 1846 225.7C1846.7 228.4 1847.3 231.3 1848 234.2C1848.7 237.1 1849.3 240 1850 243C1850.7 246 1851.3 249.1 1852 252.2C1852.7 255.3 1853.3 258.4 1854 261.7C1854.7 264.9 1855.3 268.1 1856 271.5C1856.7 274.8 1857.3 278.2 1858 281.6C1858.7 285 1859.3 288.5 1860 292.1C1860.7 295.6 1861.3 299.2 1862 302.8C1862.7 306.5 1863.3 310.2 1864 313.9C1864.7 317.7 1865.3 321.5 1866 325.3C1866.7 329.2 1867.3 333.1 1868 337C1868.7 341 1869.3 345 1870 349C1870.7 353.1 1871.3 357.2 1872 361.4C1872.7 365.5 1873.3 369.7 1874 374C1874.7 378.2 1875.3 382.6 1876 386.9C1876.7 391.3 1877.3 395.7 1878 400.1C1878.7 404.6 1879.3 409.1 1880 413.7C1880.7 418.2 1881.3 422.8 1882 427.5C1882.7 432.1 1883.3 436.9 1884 441.6C1884.7 446.4 1885.3 451.2 1886 456C1886.7 460.9 1887.3 465.8 1888 470.7C1888.7 475.7 1889.3 480.7 1890 485.7C1890.7 490.8 1891.3 495.9 1892 501C1892.7 506.1 1893.3 511.3 1894 516.6C1894.7 521.8 1895.3 527.1 1896 532.4C1896.7 537.8 1897.7 545.9 1898 548.6" fill="none" stroke="#FF00FF" stroke-width="8" stroke-linejoin="round" stroke-linecap="round"/>
</g>
<line x1="1708.2" y1="108.5" x2="1708.2" y2="112" stroke="#000" stroke-width="2"/>
<line x1="1708.2" y1="537.8" x2="1708.2" y2="534.3" stroke="#000" stroke-width="2"/>
<line x1="1738.9" y1="108.5" x2="1738.9" y2="115" stroke="#000" stroke-width="2"/>
<line x1="1738.9" y1="537.8" x2="1738.9" y2="531.3" stroke="#000" stroke-width="2"/>
<line x1="1769.4" y1="108.5" x2="1769.4" y2="112" stroke="#000" stroke-width="2"/>
<line x1="1769.4" y1="537.8" x2="1769.4" y2="534.3" stroke="#000" stroke-width="2"/>
<line x1="1801.7" y1="108.5" x2="1801.7" y2="115" stroke="#000" stroke-width="2"/>
<line x1="1801.7" y1="537.8" x2="1801.7" y2="531.3" stroke="#000" stroke-width="2"/>
<line x1="1833.2" y1="108.5" x2="1833.2" y2="112" stroke="#000" stroke-width="2"/>
<line x1="1833.2" y1="537.8" x2="1833.2" y2="534.3" stroke="#000" stroke-width="2"/>
<line x1="1865.5" y1="108.5" x2="1865.5" y2="115" stroke="#000" stroke-width="2"/>
<line x1="1865.5" y1="537.8" x2="1865.5" y2="531.3" stroke="#000" stroke-width="2"/>
<line x1="1699" y1="214.5" x2="1705.5" y2="214.5" stroke="#000" stroke-width="2"/>
<line x1="1892.3" y1="214.5" x2="1886" y2="214.5" stroke="#000" stroke-width="2"/>
<line x1="1699" y1="336" x2="1705.5" y2="336" stroke="#000" stroke-width="2"/>
<line x1="1892.3" y1="336" x2="1886" y2="336" stroke="#000" stroke-width="2"/>
<line x1="1699" y1="457" x2="1705.5" y2="457" stroke="#000" stroke-width="2"/>
<line x1="1892.3" y1="457" x2="1886" y2="457" stroke="#000" stroke-width="2"/>
<rect x="1449.8" y="385" width="116.5" height="365.4" fill="#fff" stroke="#000" stroke-width="2.2"/>
<g clip-path="url(#ci2)">
<path d="M1449.5 767.3C1449.8 766.3 1450.5 763.3 1451 761.2C1451.5 759.2 1452 757.2 1452.5 755.2C1453 753.2 1453.5 751.2 1454 749.3C1454.5 747.3 1455 745.3 1455.5 743.4C1456 741.4 1456.5 739.5 1457 737.6C1457.5 735.6 1458 733.7 1458.5 731.8C1459 729.9 1459.5 728 1460 726.1C1460.5 724.2 1461 722.3 1461.5 720.5C1462 718.6 1462.5 716.8 1463 714.9C1463.5 713.1 1464 711.3 1464.5 709.4C1465 707.6 1465.5 705.8 1466 704C1466.5 702.2 1467 700.5 1467.5 698.7C1468 696.9 1468.5 695.2 1469 693.4C1469.5 691.7 1470 690 1470.5 688.2C1471 686.5 1471.5 684.8 1472 683.1C1472.5 681.4 1473 679.8 1473.5 678.1C1474 676.4 1474.5 674.8 1475 673.1C1475.5 671.5 1476 669.9 1476.5 668.2C1477 666.6 1477.5 665 1478 663.5C1478.5 661.9 1479 660.3 1479.5 658.7C1480 657.2 1480.5 655.6 1481 654.1C1481.5 652.6 1482 651.1 1482.5 649.6C1483 648.1 1483.5 646.6 1484 645.1C1484.5 643.6 1485 642.2 1485.5 640.8C1486 639.3 1486.5 637.9 1487 636.5C1487.5 635.1 1488 633.7 1488.5 632.3C1489 630.9 1489.5 629.6 1490 628.2C1490.5 626.9 1491 625.6 1491.5 624.3C1492 623 1492.5 621.7 1493 620.4C1493.5 619.1 1494 617.9 1494.5 616.6C1495 615.4 1495.5 614.2 1496 613C1496.5 611.8 1497 610.6 1497.5 609.5C1498 608.3 1498.5 607.2 1499 606.1C1499.5 604.9 1500 603.8 1500.5 602.8C1501 601.7 1501.5 600.6 1502 599.6C1502.5 598.6 1503 597.6 1503.5 596.6C1504 595.6 1504.5 594.7 1505 593.7C1505.5 592.8 1506 591.9 1506.5 591C1507 590.1 1507.5 589.3 1508 588.5C1508.5 587.7 1509 586.9 1509.5 586.1C1510 585.4 1510.5 584.6 1511 583.9C1511.5 583.3 1512 582.6 1512.5 582C1513 581.4 1513.5 580.8 1514 580.3C1514.5 579.8 1515 579.3 1515.5 578.9C1516 578.6 1516.5 578.1 1517 578C1517.5 578 1518 578.2 1518.5 578.6C1519 579 1519.5 579.7 1520 580.3C1520.5 581 1521 581.8 1521.5 582.7C1522 583.5 1522.5 584.4 1523 585.4C1523.5 586.4 1524 587.4 1524.5 588.5C1525 589.6 1525.5 590.8 1526 592C1526.5 593.2 1527 594.4 1527.5 595.7C1528 597 1528.5 598.4 1529 599.7C1529.5 601.1 1530 602.5 1530.5 604C1531 605.4 1531.5 606.9 1532 608.5C1532.5 610 1533 611.6 1533.5 613.2C1534 614.8 1534.5 616.4 1535 618.1C1535.5 619.8 1536 621.5 1536.5 623.2C1537 624.9 1537.5 626.7 1538 628.5C1538.5 630.3 1539 632.1 1539.5 634C1540 635.8 1540.5 637.7 1541 639.6C1541.5 641.5 1542 643.5 1542.5 645.4C1543 647.4 1543.5 649.4 1544 651.4C1544.5 653.4 1545 655.5 1545.5 657.6C1546 659.6 1546.5 661.7 1547 663.9C1547.5 666 1548 668.1 1548.5 670.3C1549 672.5 1549.5 674.7 1550 676.9C1550.5 679.1 1551 681.4 1551.5 683.6C1552 685.9 1552.5 688.2 1553 690.5C1553.5 692.8 1554 695.1 1554.5 697.5C1555 699.8 1555.5 702.2 1556 704.6C1556.5 707 1557 709.4 1557.5 711.9C1558 714.3 1558.5 716.8 1559 719.3C1559.5 721.8 1560 724.3 1560.5 726.8C1561 729.3 1561.5 731.9 1562 734.4C1562.5 737 1563 739.6 1563.5 742.2C1564 744.8 1564.5 747.4 1565 750.1C1565.5 752.7 1566 755.4 1566.5 758C1567 760.7 1567.8 764.8 1568 766.1" fill="none" stroke="#000" stroke-width="5.5" stroke-linejoin="round" stroke-linecap="round"/>
<path d="M1445 758.7C1445.2 756.4 1446 749.4 1446.5 744.8C1447 740.2 1447.5 735.6 1448 731.1C1448.5 726.6 1449 722.2 1449.5 717.8C1450 713.3 1450.5 709 1451 704.6C1451.5 700.3 1452 696 1452.5 691.8C1453 687.5 1453.5 683.3 1454 679.1C1454.5 675 1455 670.9 1455.5 666.8C1456 662.7 1456.5 658.7 1457 654.7C1457.5 650.7 1458 646.8 1458.5 642.9C1459 639 1459.5 635.1 1460 631.3C1460.5 627.5 1461 623.8 1461.5 620.1C1462 616.3 1462.5 612.7 1463 609C1463.5 605.4 1464 601.9 1464.5 598.3C1465 594.8 1465.5 591.3 1466 587.9C1466.5 584.5 1467 581.1 1467.5 577.7C1468 574.4 1468.5 571.1 1469 567.9C1469.5 564.6 1470 561.4 1470.5 558.3C1471 555.1 1471.5 552 1472 549C1472.5 546 1473 543 1473.5 540C1474 537.1 1474.5 534.2 1475 531.4C1475.5 528.5 1476 525.7 1476.5 523C1477 520.3 1477.5 517.6 1478 515C1478.5 512.3 1479 509.7 1479.5 507.2C1480 504.7 1480.5 502.2 1481 499.8C1481.5 497.4 1482 495.1 1482.5 492.8C1483 490.5 1483.5 488.2 1484 486C1484.5 483.9 1485 481.7 1485.5 479.7C1486 477.6 1486.5 475.6 1487 473.6C1487.5 471.7 1488 469.8 1488.5 468C1489 466.2 1489.5 464.4 1490 462.7C1490.5 461 1491 459.4 1491.5 457.8C1492 456.3 1492.5 454.8 1493 453.4C1493.5 451.9 1494 450.6 1494.5 449.3C1495 448 1495.5 446.8 1496 445.7C1496.5 444.5 1497 443.5 1497.5 442.5C1498 441.6 1498.5 440.7 1499 439.9C1499.5 439.1 1500 438.4 1500.5 437.8C1501 437.2 1501.5 436.6 1502 436.3C1502.5 435.9 1503 435.6 1503.5 435.6C1504 435.5 1504.5 435.8 1505 436.1C1505.5 436.4 1506 436.8 1506.5 437.4C1507 437.9 1507.5 438.5 1508 439.2C1508.5 439.9 1509 440.7 1509.5 441.5C1510 442.4 1510.5 443.3 1511 444.3C1511.5 445.3 1512 446.4 1512.5 447.5C1513 448.7 1513.5 449.9 1514 451.1C1514.5 452.4 1515 453.7 1515.5 455.1C1516 456.5 1516.5 457.9 1517 459.5C1517.5 461 1518 462.5 1518.5 464.2C1519 465.8 1519.5 467.5 1520 469.2C1520.5 470.9 1521 472.7 1521.5 474.6C1522 476.4 1522.5 478.3 1523 480.2C1523.5 482.2 1524 484.2 1524.5 486.3C1525 488.3 1525.5 490.4 1526 492.6C1526.5 494.7 1527 496.9 1527.5 499.2C1528 501.4 1528.5 503.7 1529 506.1C1529.5 508.4 1530 510.8 1530.5 513.3C1531 515.7 1531.5 518.2 1532 520.7C1532.5 523.3 1533 525.9 1533.5 528.5C1534 531.1 1534.5 533.8 1535 536.5C1535.5 539.2 1536 542 1536.5 544.8C1537 547.6 1537.5 550.5 1538 553.4C1538.5 556.3 1539 559.2 1539.5 562.2C1540 565.2 1540.5 568.2 1541 571.3C1541.5 574.4 1542 577.5 1542.5 580.7C1543 583.8 1543.5 587 1544 590.3C1544.5 593.5 1545 596.8 1545.5 600.1C1546 603.4 1546.5 606.8 1547 610.2C1547.5 613.6 1548 617.1 1548.5 620.5C1549 624 1549.5 627.6 1550 631.1C1550.5 634.7 1551 638.3 1551.5 642C1552 645.6 1552.5 649.3 1553 653C1553.5 656.7 1554 660.5 1554.5 664.3C1555 668.1 1555.5 672 1556 675.8C1556.5 679.7 1557 683.6 1557.5 687.6C1558 691.6 1558.5 695.6 1559 699.6C1559.5 703.6 1560 707.7 1560.5 711.8C1561 715.9 1561.5 720.1 1562 724.3C1562.5 728.4 1563 732.7 1563.5 736.9C1564 741.2 1564.5 745.5 1565 749.8C1565.5 754.2 1566.2 760.7 1566.5 762.9" fill="none" stroke="#FF0000" stroke-width="5.5" stroke-linejoin="round" stroke-linecap="round"/>
<path d="M1445 688.9C1445.2 687.2 1446 682.1 1446.5 678.8C1447 675.4 1447.5 672 1448 668.7C1448.5 665.4 1449 662.1 1449.5 658.8C1450 655.5 1450.5 652.2 1451 648.9C1451.5 645.7 1452 642.4 1452.5 639.2C1453 636 1453.5 632.8 1454 629.6C1454.5 626.4 1455 623.3 1455.5 620.1C1456 617 1456.5 613.8 1457 610.7C1457.5 607.6 1458 604.6 1458.5 601.5C1459 598.4 1459.5 595.4 1460 592.4C1460.5 589.4 1461 586.4 1461.5 583.4C1462 580.4 1462.5 577.5 1463 574.5C1463.5 571.6 1464 568.7 1464.5 565.8C1465 562.9 1465.5 560 1466 557.2C1466.5 554.3 1467 551.5 1467.5 548.7C1468 545.9 1468.5 543.1 1469 540.4C1469.5 537.6 1470 534.9 1470.5 532.2C1471 529.5 1471.5 526.8 1472 524.2C1472.5 521.5 1473 518.9 1473.5 516.3C1474 513.7 1474.5 511.1 1475 508.5C1475.5 506 1476 503.5 1476.5 500.9C1477 498.4 1477.5 496 1478 493.5C1478.5 491.1 1479 488.7 1479.5 486.3C1480 483.9 1480.5 481.5 1481 479.2C1481.5 476.9 1482 474.6 1482.5 472.3C1483 470 1483.5 467.8 1484 465.6C1484.5 463.4 1485 461.2 1485.5 459C1486 456.9 1486.5 454.8 1487 452.7C1487.5 450.6 1488 448.6 1488.5 446.6C1489 444.5 1489.5 442.6 1490 440.6C1490.5 438.7 1491 436.8 1491.5 434.9C1492 433.1 1492.5 431.3 1493 429.5C1493.5 427.7 1494 426 1494.5 424.3C1495 422.6 1495.5 420.9 1496 419.3C1496.5 417.7 1497 416.2 1497.5 414.7C1498 413.2 1498.5 411.8 1499 410.4C1499.5 409 1500 407.6 1500.5 406.4C1501 405.1 1501.5 403.9 1502 402.8C1502.5 401.7 1503 400.6 1503.5 399.6C1504 398.7 1504.5 397.8 1505 397.1C1505.5 396.4 1506 395.5 1506.5 395.3C1507 395.2 1507.5 395.7 1508 396.4C1508.5 397 1509 398.1 1509.5 399.2C1510 400.3 1510.5 401.6 1511 402.9C1511.5 404.3 1512 405.7 1512.5 407.2C1513 408.8 1513.5 410.4 1514 412.1C1514.5 413.8 1515 415.6 1515.5 417.4C1516 419.3 1516.5 421.2 1517 423.2C1517.5 425.2 1518 427.2 1518.5 429.3C1519 431.4 1519.5 433.6 1520 435.8C1520.5 438 1521 440.3 1521.5 442.6C1522 444.9 1522.5 447.3 1523 449.7C1523.5 452.1 1524 454.6 1524.5 457.1C1525 459.6 1525.5 462.2 1526 464.8C1526.5 467.4 1527 470.1 1527.5 472.8C1528 475.5 1528.5 478.2 1529 481C1529.5 483.8 1530 486.6 1530.5 489.5C1531 492.3 1531.5 495.2 1532 498.2C1532.5 501.1 1533 504.1 1533.5 507.1C1534 510.1 1534.5 513.2 1535 516.2C1535.5 519.3 1536 522.4 1536.5 525.6C1537 528.8 1537.5 532 1538 535.2C1538.5 538.4 1539 541.7 1539.5 545C1540 548.2 1540.5 551.6 1541 554.9C1541.5 558.3 1542 561.7 1542.5 565.1C1543 568.5 1543.5 572 1544 575.4C1544.5 578.9 1545 582.4 1545.5 586C1546 589.5 1546.5 593.1 1547 596.7C1547.5 600.3 1548 603.9 1548.5 607.6C1549 611.2 1549.5 614.9 1550 618.6C1550.5 622.4 1551 626.1 1551.5 629.9C1552 633.6 1552.5 637.4 1553 641.3C1553.5 645.1 1554 648.9 1554.5 652.8C1555 656.7 1555.5 660.6 1556 664.5C1556.5 668.5 1557 672.4 1557.5 676.4C1558 680.4 1558.5 684.4 1559 688.4C1559.5 692.5 1560 696.5 1560.5 700.6C1561 704.7 1561.5 708.8 1562 713C1562.5 717.1 1563 721.2 1563.5 725.4C1564 729.6 1564.5 733.8 1565 738C1565.5 742.3 1566 746.5 1566.5 750.8C1567 755.1 1567.8 761.6 1568 763.7" fill="none" stroke="#0000F5" stroke-width="5.5" stroke-linejoin="round" stroke-linecap="round"/>
<path d="M1445 685.9C1445.2 684.2 1446 679.1 1446.5 675.8C1447 672.4 1447.5 669 1448 665.7C1448.5 662.4 1449 659.1 1449.5 655.8C1450 652.5 1450.5 649.2 1451 645.9C1451.5 642.7 1452 639.4 1452.5 636.2C1453 633 1453.5 629.8 1454 626.6C1454.5 623.4 1455 620.3 1455.5 617.1C1456 614 1456.5 610.8 1457 607.7C1457.5 604.6 1458 601.6 1458.5 598.5C1459 595.4 1459.5 592.4 1460 589.4C1460.5 586.4 1461 583.4 1461.5 580.4C1462 577.4 1462.5 574.5 1463 571.5C1463.5 568.6 1464 565.7 1464.5 562.8C1465 559.9 1465.5 557 1466 554.2C1466.5 551.3 1467 548.5 1467.5 545.7C1468 542.9 1468.5 540.1 1469 537.4C1469.5 534.6 1470 531.9 1470.5 529.2C1471 526.5 1471.5 523.8 1472 521.2C1472.5 518.5 1473 515.9 1473.5 513.3C1474 510.7 1474.5 508.1 1475 505.5C1475.5 503 1476 500.5 1476.5 497.9C1477 495.4 1477.5 493 1478 490.5C1478.5 488.1 1479 485.7 1479.5 483.3C1480 480.9 1480.5 478.5 1481 476.2C1481.5 473.9 1482 471.6 1482.5 469.3C1483 467 1483.5 464.8 1484 462.6C1484.5 460.4 1485 458.2 1485.5 456C1486 453.9 1486.5 451.8 1487 449.7C1487.5 447.6 1488 445.6 1488.5 443.6C1489 441.5 1489.5 439.6 1490 437.6C1490.5 435.7 1491 433.8 1491.5 431.9C1492 430.1 1492.5 428.3 1493 426.5C1493.5 424.7 1494 423 1494.5 421.3C1495 419.6 1495.5 417.9 1496 416.3C1496.5 414.7 1497 413.2 1497.5 411.7C1498 410.2 1498.5 408.8 1499 407.4C1499.5 406 1500 404.6 1500.5 403.4C1501 402.1 1501.5 400.9 1502 399.8C1502.5 398.7 1503 397.6 1503.5 396.6C1504 395.7 1504.5 394.8 1505 394.1C1505.5 393.4 1506 392.5 1506.5 392.3C1507 392.2 1507.5 392.7 1508 393.4C1508.5 394 1509 395.1 1509.5 396.2C1510 397.3 1510.5 398.6 1511 399.9C1511.5 401.3 1512 402.7 1512.5 404.2C1513 405.8 1513.5 407.4 1514 409.1C1514.5 410.8 1515 412.6 1515.5 414.4C1516 416.3 1516.5 418.2 1517 420.2C1517.5 422.2 1518 424.2 1518.5 426.3C1519 428.4 1519.5 430.6 1520 432.8C1520.5 435 1521 437.3 1521.5 439.6C1522 441.9 1522.5 444.3 1523 446.7C1523.5 449.1 1524 451.6 1524.5 454.1C1525 456.6 1525.5 459.2 1526 461.8C1526.5 464.4 1527 467.1 1527.5 469.8C1528 472.5 1528.5 475.2 1529 478C1529.5 480.8 1530 483.6 1530.5 486.5C1531 489.3 1531.5 492.2 1532 495.2C1532.5 498.1 1533 501.1 1533.5 504.1C1534 507.1 1534.5 510.2 1535 513.2C1535.5 516.3 1536 519.4 1536.5 522.6C1537 525.8 1537.5 529 1538 532.2C1538.5 535.4 1539 538.7 1539.5 542C1540 545.2 1540.5 548.6 1541 551.9C1541.5 555.3 1542 558.7 1542.5 562.1C1543 565.5 1543.5 569 1544 572.4C1544.5 575.9 1545 579.4 1545.5 583C1546 586.5 1546.5 590.1 1547 593.7C1547.5 597.3 1548 600.9 1548.5 604.6C1549 608.2 1549.5 611.9 1550 615.6C1550.5 619.4 1551 623.1 1551.5 626.9C1552 630.6 1552.5 634.4 1553 638.3C1553.5 642.1 1554 645.9 1554.5 649.8C1555 653.7 1555.5 657.6 1556 661.5C1556.5 665.5 1557 669.4 1557.5 673.4C1558 677.4 1558.5 681.4 1559 685.4C1559.5 689.5 1560 693.5 1560.5 697.6C1561 701.7 1561.5 705.8 1562 710C1562.5 714.1 1563 718.2 1563.5 722.4C1564 726.6 1564.5 730.8 1565 735C1565.5 739.3 1566 743.5 1566.5 747.8C1567 752.1 1567.8 758.6 1568 760.7" fill="none" stroke="#FF00FF" stroke-width="5.5" stroke-linejoin="round" stroke-linecap="round"/>
</g>
<line x1="1463.7" y1="386" x2="1463.7" y2="390" stroke="#000" stroke-width="1.8"/>
<line x1="1463.7" y1="749.3" x2="1463.7" y2="745.3" stroke="#000" stroke-width="1.8"/>
<line x1="1480.5" y1="386" x2="1480.5" y2="390" stroke="#000" stroke-width="1.8"/>
<line x1="1480.5" y1="749.3" x2="1480.5" y2="745.3" stroke="#000" stroke-width="1.8"/>
<line x1="1497.4" y1="386" x2="1497.4" y2="390" stroke="#000" stroke-width="1.8"/>
<line x1="1497.4" y1="749.3" x2="1497.4" y2="745.3" stroke="#000" stroke-width="1.8"/>
<line x1="1515.2" y1="386" x2="1515.2" y2="390" stroke="#000" stroke-width="1.8"/>
<line x1="1515.2" y1="749.3" x2="1515.2" y2="745.3" stroke="#000" stroke-width="1.8"/>
<line x1="1531.5" y1="386" x2="1531.5" y2="390" stroke="#000" stroke-width="1.8"/>
<line x1="1531.5" y1="749.3" x2="1531.5" y2="745.3" stroke="#000" stroke-width="1.8"/>
<line x1="1548.9" y1="386" x2="1548.9" y2="390" stroke="#000" stroke-width="1.8"/>
<line x1="1548.9" y1="749.3" x2="1548.9" y2="745.3" stroke="#000" stroke-width="1.8"/>
<line x1="1451" y1="394.8" x2="1455" y2="394.8" stroke="#000" stroke-width="1.8"/>
<line x1="1565.2" y1="394.8" x2="1561.2" y2="394.8" stroke="#000" stroke-width="1.8"/>
<line x1="1451" y1="415.5" x2="1457" y2="415.5" stroke="#000" stroke-width="1.8"/>
<line x1="1565.2" y1="415.5" x2="1559.2" y2="415.5" stroke="#000" stroke-width="1.8"/>
<line x1="1451" y1="436.2" x2="1455" y2="436.2" stroke="#000" stroke-width="1.8"/>
<line x1="1565.2" y1="436.2" x2="1561.2" y2="436.2" stroke="#000" stroke-width="1.8"/>
<line x1="1451" y1="456.9" x2="1457" y2="456.9" stroke="#000" stroke-width="1.8"/>
<line x1="1565.2" y1="456.9" x2="1559.2" y2="456.9" stroke="#000" stroke-width="1.8"/>
<line x1="1451" y1="477.6" x2="1455" y2="477.6" stroke="#000" stroke-width="1.8"/>
<line x1="1565.2" y1="477.6" x2="1561.2" y2="477.6" stroke="#000" stroke-width="1.8"/>
<line x1="1451" y1="498.3" x2="1457" y2="498.3" stroke="#000" stroke-width="1.8"/>
<line x1="1565.2" y1="498.3" x2="1559.2" y2="498.3" stroke="#000" stroke-width="1.8"/>
<line x1="1451" y1="519" x2="1455" y2="519" stroke="#000" stroke-width="1.8"/>
<line x1="1565.2" y1="519" x2="1561.2" y2="519" stroke="#000" stroke-width="1.8"/>
<line x1="1451" y1="539.7" x2="1457" y2="539.7" stroke="#000" stroke-width="1.8"/>
<line x1="1565.2" y1="539.7" x2="1559.2" y2="539.7" stroke="#000" stroke-width="1.8"/>
<line x1="1451" y1="560.4" x2="1455" y2="560.4" stroke="#000" stroke-width="1.8"/>
<line x1="1565.2" y1="560.4" x2="1561.2" y2="560.4" stroke="#000" stroke-width="1.8"/>
<line x1="1451" y1="581.1" x2="1457" y2="581.1" stroke="#000" stroke-width="1.8"/>
<line x1="1565.2" y1="581.1" x2="1559.2" y2="581.1" stroke="#000" stroke-width="1.8"/>
<line x1="1451" y1="601.8" x2="1455" y2="601.8" stroke="#000" stroke-width="1.8"/>
<line x1="1565.2" y1="601.8" x2="1561.2" y2="601.8" stroke="#000" stroke-width="1.8"/>
<line x1="1451" y1="622.5" x2="1457" y2="622.5" stroke="#000" stroke-width="1.8"/>
<line x1="1565.2" y1="622.5" x2="1559.2" y2="622.5" stroke="#000" stroke-width="1.8"/>
<line x1="1451" y1="643.2" x2="1455" y2="643.2" stroke="#000" stroke-width="1.8"/>
<line x1="1565.2" y1="643.2" x2="1561.2" y2="643.2" stroke="#000" stroke-width="1.8"/>
<line x1="1451" y1="663.9" x2="1457" y2="663.9" stroke="#000" stroke-width="1.8"/>
<line x1="1565.2" y1="663.9" x2="1559.2" y2="663.9" stroke="#000" stroke-width="1.8"/>
<line x1="1451" y1="684.6" x2="1455" y2="684.6" stroke="#000" stroke-width="1.8"/>
<line x1="1565.2" y1="684.6" x2="1561.2" y2="684.6" stroke="#000" stroke-width="1.8"/>
<line x1="1451" y1="705.3" x2="1457" y2="705.3" stroke="#000" stroke-width="1.8"/>
<line x1="1565.2" y1="705.3" x2="1559.2" y2="705.3" stroke="#000" stroke-width="1.8"/>
<line x1="1451" y1="726" x2="1455" y2="726" stroke="#000" stroke-width="1.8"/>
<line x1="1565.2" y1="726" x2="1561.2" y2="726" stroke="#000" stroke-width="1.8"/>
<line x1="1451" y1="746.7" x2="1457" y2="746.7" stroke="#000" stroke-width="1.8"/>
<line x1="1565.2" y1="746.7" x2="1559.2" y2="746.7" stroke="#000" stroke-width="1.8"/>
<rect x="2083.2" y="192.1" width="242.6" height="258.4" fill="#fff" stroke="#000" stroke-width="2.6"/>
<line x1="2095.8" y1="237.8" x2="2193.7" y2="237.8" stroke="#000" stroke-width="10.5"/>
<line x1="2095.8" y1="301.3" x2="2193.7" y2="301.3" stroke="#FF0000" stroke-width="10.5"/>
<line x1="2095.8" y1="364.3" x2="2193.7" y2="364.3" stroke="#0808E0" stroke-width="10.5"/>
<line x1="2095.8" y1="425.3" x2="2193.7" y2="425.3" stroke="#E616E6" stroke-width="10.5"/>
<line x1="1443" y1="81.7" x2="1443" y2="1063" stroke="#000" stroke-width="2.7"/>
<line x1="1443" y1="82.7" x2="2342.6" y2="82.7" stroke="#000" stroke-width="2.5"/>
<line x1="2341.3" y1="81.7" x2="2341.3" y2="1063" stroke="#000" stroke-width="2.7"/>
<line x1="1443" y1="1061.8" x2="2342.6" y2="1061.8" stroke="#000" stroke-width="2.5"/>
<line x1="1555.3" y1="1061.8" x2="1555.3" y2="1052.8" stroke="#000" stroke-width="2.4"/>
<line x1="1555.3" y1="82.7" x2="1555.3" y2="91.7" stroke="#000" stroke-width="2.4"/>
<line x1="1667.6" y1="1061.8" x2="1667.6" y2="1042.8" stroke="#000" stroke-width="2.4"/>
<line x1="1667.6" y1="82.7" x2="1667.6" y2="101.7" stroke="#000" stroke-width="2.4"/>
<line x1="1779.9" y1="1061.8" x2="1779.9" y2="1052.8" stroke="#000" stroke-width="2.4"/>
<line x1="1779.9" y1="82.7" x2="1779.9" y2="91.7" stroke="#000" stroke-width="2.4"/>
<line x1="1892.2" y1="1061.8" x2="1892.2" y2="1042.8" stroke="#000" stroke-width="2.4"/>
<line x1="1892.2" y1="82.7" x2="1892.2" y2="101.7" stroke="#000" stroke-width="2.4"/>
<line x1="2004.5" y1="1061.8" x2="2004.5" y2="1052.8" stroke="#000" stroke-width="2.4"/>
<line x1="2004.5" y1="82.7" x2="2004.5" y2="91.7" stroke="#000" stroke-width="2.4"/>
<line x1="2116.7" y1="1061.8" x2="2116.7" y2="1042.8" stroke="#000" stroke-width="2.4"/>
<line x1="2116.7" y1="82.7" x2="2116.7" y2="101.7" stroke="#000" stroke-width="2.4"/>
<line x1="2229" y1="1061.8" x2="2229" y2="1052.8" stroke="#000" stroke-width="2.4"/>
<line x1="2229" y1="82.7" x2="2229" y2="91.7" stroke="#000" stroke-width="2.4"/>
<line x1="1444.3" y1="984.9" x2="1452.3" y2="984.9" stroke="#000" stroke-width="2.4"/>
<line x1="2340" y1="984.9" x2="2332" y2="984.9" stroke="#000" stroke-width="2.4"/>
<line x1="1444.3" y1="909.8" x2="1460.3" y2="909.8" stroke="#000" stroke-width="2.4"/>
<line x1="2340" y1="909.8" x2="2324" y2="909.8" stroke="#000" stroke-width="2.4"/>
<line x1="1444.3" y1="834.8" x2="1452.3" y2="834.8" stroke="#000" stroke-width="2.4"/>
<line x1="2340" y1="834.8" x2="2332" y2="834.8" stroke="#000" stroke-width="2.4"/>
<line x1="1444.3" y1="759.7" x2="1460.3" y2="759.7" stroke="#000" stroke-width="2.4"/>
<line x1="2340" y1="759.7" x2="2324" y2="759.7" stroke="#000" stroke-width="2.4"/>
<line x1="1444.3" y1="684.7" x2="1452.3" y2="684.7" stroke="#000" stroke-width="2.4"/>
<line x1="2340" y1="684.7" x2="2332" y2="684.7" stroke="#000" stroke-width="2.4"/>
<line x1="1444.3" y1="609.6" x2="1460.3" y2="609.6" stroke="#000" stroke-width="2.4"/>
<line x1="2340" y1="609.6" x2="2324" y2="609.6" stroke="#000" stroke-width="2.4"/>
<line x1="1444.3" y1="534.6" x2="1452.3" y2="534.6" stroke="#000" stroke-width="2.4"/>
<line x1="2340" y1="534.6" x2="2332" y2="534.6" stroke="#000" stroke-width="2.4"/>
<line x1="1444.3" y1="459.5" x2="1460.3" y2="459.5" stroke="#000" stroke-width="2.4"/>
<line x1="2340" y1="459.5" x2="2324" y2="459.5" stroke="#000" stroke-width="2.4"/>
<line x1="1444.3" y1="384.5" x2="1452.3" y2="384.5" stroke="#000" stroke-width="2.4"/>
<line x1="2340" y1="384.5" x2="2332" y2="384.5" stroke="#000" stroke-width="2.4"/>
<line x1="1444.3" y1="309.4" x2="1460.3" y2="309.4" stroke="#000" stroke-width="2.4"/>
<line x1="2340" y1="309.4" x2="2324" y2="309.4" stroke="#000" stroke-width="2.4"/>
<line x1="1444.3" y1="234.4" x2="1452.3" y2="234.4" stroke="#000" stroke-width="2.4"/>
<line x1="2340" y1="234.4" x2="2332" y2="234.4" stroke="#000" stroke-width="2.4"/>
<line x1="1444.3" y1="159.3" x2="1460.3" y2="159.3" stroke="#000" stroke-width="2.4"/>
<line x1="2340" y1="159.3" x2="2324" y2="159.3" stroke="#000" stroke-width="2.4"/>
<text transform="translate(29.41 97.97) scale(1.03 1)" font-family="'Liberation Sans', Arial, sans-serif" font-size="89.73" fill="#000" text-anchor="start">(a)</text>
<text transform="translate(1204.54 105.45) scale(1.05 1)" font-family="'Liberation Sans', Arial, sans-serif" font-size="88.87" fill="#000" text-anchor="start">(b)</text>
<text transform="translate(241.59 97.08) scale(1.04 1)" font-family="'Liberation Sans', Arial, sans-serif" font-size="56.89" fill="#000" text-anchor="end">0.7</text>
<text transform="translate(241.59 258.7) scale(1.04 1)" font-family="'Liberation Sans', Arial, sans-serif" font-size="56.89" fill="#000" text-anchor="end">0.6</text>
<text transform="translate(241.59 420.69) scale(1.04 1)" font-family="'Liberation Sans', Arial, sans-serif" font-size="56.89" fill="#000" text-anchor="end">0.5</text>
<text transform="translate(241.59 583.7) scale(1.04 1)" font-family="'Liberation Sans', Arial, sans-serif" font-size="56.89" fill="#000" text-anchor="end">0.4</text>
<text transform="translate(241.59 748.9) scale(1.04 1)" font-family="'Liberation Sans', Arial, sans-serif" font-size="56.89" fill="#000" text-anchor="end">0.3</text>
<text transform="translate(241.59 909.93) scale(1.04 1)" font-family="'Liberation Sans', Arial, sans-serif" font-size="56.89" fill="#000" text-anchor="end">0.2</text>
<text transform="translate(241.59 1072.9) scale(1.04 1)" font-family="'Liberation Sans', Arial, sans-serif" font-size="56.89" fill="#000" text-anchor="end">0.1</text>
<text transform="translate(254.02 1122.44) scale(1.1 1)" font-family="'Liberation Sans', Arial, sans-serif" font-size="54.65" fill="#000" text-anchor="middle">200</text>
<text transform="translate(433.56 1122.44) scale(1.1 1)" font-family="'Liberation Sans', Arial, sans-serif" font-size="54.65" fill="#000" text-anchor="middle">300</text>
<text transform="translate(613.1 1122.44) scale(1.1 1)" font-family="'Liberation Sans', Arial, sans-serif" font-size="54.65" fill="#000" text-anchor="middle">400</text>
<text transform="translate(792.64 1122.44) scale(1.1 1)" font-family="'Liberation Sans', Arial, sans-serif" font-size="54.65" fill="#000" text-anchor="middle">500</text>
<text transform="translate(972.18 1122.44) scale(1.1 1)" font-family="'Liberation Sans', Arial, sans-serif" font-size="54.65" fill="#000" text-anchor="middle">600</text>
<text transform="translate(1151.72 1122.44) scale(1.1 1)" font-family="'Liberation Sans', Arial, sans-serif" font-size="54.65" fill="#000" text-anchor="middle">700</text>
<text transform="translate(1426.99 1075.79) scale(1.03 1)" font-family="'Liberation Sans', Arial, sans-serif" font-size="55.91" fill="#000" text-anchor="end">0.16</text>
<text transform="translate(1426.99 923.92) scale(1.03 1)" font-family="'Liberation Sans', Arial, sans-serif" font-size="55.91" fill="#000" text-anchor="end">0.18</text>
<text transform="translate(1426.99 774.1) scale(1.03 1)" font-family="'Liberation Sans', Arial, sans-serif" font-size="55.91" fill="#000" text-anchor="end">0.20</text>
<text transform="translate(1426.99 624.33) scale(1.03 1)" font-family="'Liberation Sans', Arial, sans-serif" font-size="55.91" fill="#000" text-anchor="end">0.22</text>
<text transform="translate(1426.99 474.53) scale(1.03 1)" font-family="'Liberation Sans', Arial, sans-serif" font-size="55.91" fill="#000" text-anchor="end">0.24</text>
<text transform="translate(1426.99 323.72) scale(1.03 1)" font-family="'Liberation Sans', Arial, sans-serif" font-size="55.91" fill="#000" text-anchor="end">0.26</text>
<text transform="translate(1426.99 173.93) scale(1.03 1)" font-family="'Liberation Sans', Arial, sans-serif" font-size="55.91" fill="#000" text-anchor="end">0.28</text>
<text transform="translate(1440.84 1124.66) scale(1.09 1)" font-family="'Liberation Sans', Arial, sans-serif" font-size="54.59" fill="#000" text-anchor="middle">200</text>
<text transform="translate(1665.42 1124.66) scale(1.09 1)" font-family="'Liberation Sans', Arial, sans-serif" font-size="54.59" fill="#000" text-anchor="middle">300</text>
<text transform="translate(1890 1124.66) scale(1.09 1)" font-family="'Liberation Sans', Arial, sans-serif" font-size="54.59" fill="#000" text-anchor="middle">400</text>
<text transform="translate(2114.58 1124.66) scale(1.09 1)" font-family="'Liberation Sans', Arial, sans-serif" font-size="54.59" fill="#000" text-anchor="middle">500</text>
<text transform="translate(2339.16 1124.66) scale(1.09 1)" font-family="'Liberation Sans', Arial, sans-serif" font-size="54.59" fill="#000" text-anchor="middle">600</text>
<text transform="translate(123.61 613.56) rotate(-90) scale(1.01 1)" font-family="'Liberation Sans', Arial, sans-serif" font-size="75.58" fill="#000" text-anchor="middle">Absorbance</text>
<text transform="translate(1266.54 616.58) rotate(-90) scale(1.04 1)" font-family="'Liberation Sans', Arial, sans-serif" font-size="72.93" fill="#000" text-anchor="middle">Absorbance</text>
<text transform="translate(704.16 1229.6) scale(1.06 1)" font-family="'Liberation Sans', Arial, sans-serif" font-size="70.67" fill="#000" text-anchor="middle">Wavelength (nm)</text>
<text transform="translate(1892.91 1227.11) scale(1.07 1)" font-family="'Liberation Sans', Arial, sans-serif" font-size="70.59" fill="#000" text-anchor="middle">Wavelength (nm)</text>
<text transform="translate(922.09 144.41) scale(0.97 1)" font-family="'Liberation Serif', 'Times New Roman', serif" font-size="58.32" fill="#000" text-anchor="start">AlNR</text>
<text transform="translate(922.1 220.64) scale(1.09 1)" font-family="'Liberation Serif', 'Times New Roman', serif" font-size="53.09" fill="#000" text-anchor="start">G-AlNR</text>
<text transform="translate(1134.69 329.51) scale(1.06 1)" font-family="'Liberation Serif', 'Times New Roman', serif" font-size="75.37" fill="#000" text-anchor="end"><tspan font-style="italic">&#952;</tspan> = <tspan fill="#D22ED2">45&#176;</tspan></text>
<text transform="translate(1135.45 613.23) scale(1.06 1)" font-family="'Liberation Serif', 'Times New Roman', serif" font-size="74.27" fill="#1E1EB8" text-anchor="end">30&#176;</text>
<text transform="translate(1132.03 762.21) scale(1.05 1)" font-family="'Liberation Serif', 'Times New Roman', serif" font-size="74.98" fill="#DC1E28" text-anchor="end">15&#176;</text>
<text transform="translate(1123.11 916.72) scale(1.04 1)" font-family="'Liberation Serif', 'Times New Roman', serif" font-size="75.29" fill="#000" text-anchor="end">0&#176;</text>
<text transform="translate(2203.59 249.2) scale(1.07 1)" font-family="'Liberation Sans', Arial, sans-serif" font-size="44.41" fill="#000" text-anchor="start">1 nm</text>
<text transform="translate(2201.89 314.79) scale(1.02 1)" font-family="'Liberation Sans', Arial, sans-serif" font-size="47.49" fill="#000" text-anchor="start">2 nm</text>
<text transform="translate(2201.89 374.99) scale(1.02 1)" font-family="'Liberation Sans', Arial, sans-serif" font-size="47.49" fill="#000" text-anchor="start">3 nm</text>
<text transform="translate(2202.95 437.97) scale(1.01 1)" font-family="'Liberation Sans', Arial, sans-serif" font-size="47.84" fill="#000" text-anchor="start">4 nm</text>
<text transform="translate(2153.44 162.81) scale(0.75 1)" font-family="'Liberation Serif', 'Times New Roman', serif" font-size="112.31" fill="#000" text-anchor="start" font-style="italic" font-weight="bold">t</text>
<text transform="translate(2175.33 182.39) scale(1.03 1)" font-family="'Liberation Sans', Arial, sans-serif" font-size="62.01" fill="#000" text-anchor="start">2</text>
</svg>
</body></html>
